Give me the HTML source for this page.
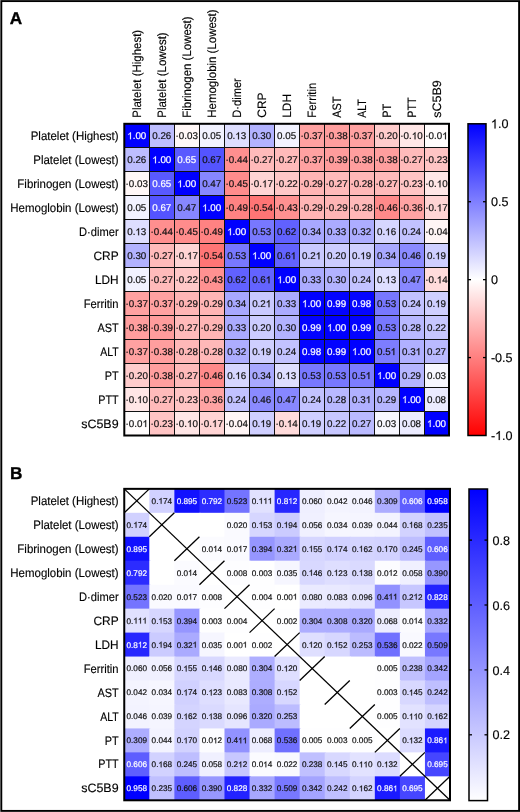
<!DOCTYPE html><html><head><meta charset="utf-8"><style>html,body{margin:0;padding:0;background:#fff;}body{width:520px;height:812px;overflow:hidden;position:relative;}svg{position:absolute;left:0;top:0;will-change:transform;}text{font-family:'Liberation Sans', sans-serif;text-rendering:geometricPrecision;}</style></head><body>
<svg width="520" height="812" viewBox="0 0 520 812">
<rect x="1.3" y="1.1" width="517.8" height="809.8" fill="none" stroke="#000" stroke-width="1.9"/>
<text x="9.7" y="24.1" font-size="17.2" font-weight="bold" fill="#000" stroke="#000" stroke-width="0.35">A</text>
<text x="10.1" y="479.3" font-size="17.2" font-weight="bold" fill="#000" stroke="#000" stroke-width="0.35">B</text>
<rect x="124.30" y="123.80" width="25.98" height="24.98" fill="rgb(0,0,255)"/>
<rect x="149.28" y="123.80" width="25.98" height="24.98" fill="rgb(189,189,255)"/>
<rect x="174.25" y="123.80" width="25.98" height="24.98" fill="rgb(255,247,247)"/>
<rect x="199.23" y="123.80" width="25.98" height="24.98" fill="rgb(242,242,255)"/>
<rect x="224.21" y="123.80" width="25.98" height="24.98" fill="rgb(222,222,255)"/>
<rect x="249.18" y="123.80" width="25.98" height="24.98" fill="rgb(178,178,255)"/>
<rect x="274.16" y="123.80" width="25.98" height="24.98" fill="rgb(242,242,255)"/>
<rect x="299.14" y="123.80" width="25.98" height="24.98" fill="rgb(255,161,161)"/>
<rect x="324.12" y="123.80" width="25.98" height="24.98" fill="rgb(255,158,158)"/>
<rect x="349.09" y="123.80" width="25.98" height="24.98" fill="rgb(255,161,161)"/>
<rect x="374.07" y="123.80" width="25.98" height="24.98" fill="rgb(255,204,204)"/>
<rect x="399.05" y="123.80" width="25.98" height="24.98" fill="rgb(255,230,230)"/>
<rect x="424.02" y="123.80" width="24.98" height="24.98" fill="rgb(255,252,252)"/>
<rect x="124.30" y="147.78" width="25.98" height="24.98" fill="rgb(189,189,255)"/>
<rect x="149.28" y="147.78" width="25.98" height="24.98" fill="rgb(0,0,255)"/>
<rect x="174.25" y="147.78" width="25.98" height="24.98" fill="rgb(89,89,255)"/>
<rect x="199.23" y="147.78" width="25.98" height="24.98" fill="rgb(84,84,255)"/>
<rect x="224.21" y="147.78" width="25.98" height="24.98" fill="rgb(255,143,143)"/>
<rect x="249.18" y="147.78" width="25.98" height="24.98" fill="rgb(255,186,186)"/>
<rect x="274.16" y="147.78" width="25.98" height="24.98" fill="rgb(255,186,186)"/>
<rect x="299.14" y="147.78" width="25.98" height="24.98" fill="rgb(255,161,161)"/>
<rect x="324.12" y="147.78" width="25.98" height="24.98" fill="rgb(255,156,156)"/>
<rect x="349.09" y="147.78" width="25.98" height="24.98" fill="rgb(255,158,158)"/>
<rect x="374.07" y="147.78" width="25.98" height="24.98" fill="rgb(255,158,158)"/>
<rect x="399.05" y="147.78" width="25.98" height="24.98" fill="rgb(255,186,186)"/>
<rect x="424.02" y="147.78" width="24.98" height="24.98" fill="rgb(255,196,196)"/>
<rect x="124.30" y="171.75" width="25.98" height="24.98" fill="rgb(255,247,247)"/>
<rect x="149.28" y="171.75" width="25.98" height="24.98" fill="rgb(89,89,255)"/>
<rect x="174.25" y="171.75" width="25.98" height="24.98" fill="rgb(0,0,255)"/>
<rect x="199.23" y="171.75" width="25.98" height="24.98" fill="rgb(135,135,255)"/>
<rect x="224.21" y="171.75" width="25.98" height="24.98" fill="rgb(255,140,140)"/>
<rect x="249.18" y="171.75" width="25.98" height="24.98" fill="rgb(255,212,212)"/>
<rect x="274.16" y="171.75" width="25.98" height="24.98" fill="rgb(255,199,199)"/>
<rect x="299.14" y="171.75" width="25.98" height="24.98" fill="rgb(255,181,181)"/>
<rect x="324.12" y="171.75" width="25.98" height="24.98" fill="rgb(255,186,186)"/>
<rect x="349.09" y="171.75" width="25.98" height="24.98" fill="rgb(255,184,184)"/>
<rect x="374.07" y="171.75" width="25.98" height="24.98" fill="rgb(255,186,186)"/>
<rect x="399.05" y="171.75" width="25.98" height="24.98" fill="rgb(255,196,196)"/>
<rect x="424.02" y="171.75" width="24.98" height="24.98" fill="rgb(255,230,230)"/>
<rect x="124.30" y="195.73" width="25.98" height="24.98" fill="rgb(242,242,255)"/>
<rect x="149.28" y="195.73" width="25.98" height="24.98" fill="rgb(84,84,255)"/>
<rect x="174.25" y="195.73" width="25.98" height="24.98" fill="rgb(135,135,255)"/>
<rect x="199.23" y="195.73" width="25.98" height="24.98" fill="rgb(0,0,255)"/>
<rect x="224.21" y="195.73" width="25.98" height="24.98" fill="rgb(255,130,130)"/>
<rect x="249.18" y="195.73" width="25.98" height="24.98" fill="rgb(255,117,117)"/>
<rect x="274.16" y="195.73" width="25.98" height="24.98" fill="rgb(255,145,145)"/>
<rect x="299.14" y="195.73" width="25.98" height="24.98" fill="rgb(255,181,181)"/>
<rect x="324.12" y="195.73" width="25.98" height="24.98" fill="rgb(255,181,181)"/>
<rect x="349.09" y="195.73" width="25.98" height="24.98" fill="rgb(255,184,184)"/>
<rect x="374.07" y="195.73" width="25.98" height="24.98" fill="rgb(255,138,138)"/>
<rect x="399.05" y="195.73" width="25.98" height="24.98" fill="rgb(255,163,163)"/>
<rect x="424.02" y="195.73" width="24.98" height="24.98" fill="rgb(255,212,212)"/>
<rect x="124.30" y="219.71" width="25.98" height="24.98" fill="rgb(222,222,255)"/>
<rect x="149.28" y="219.71" width="25.98" height="24.98" fill="rgb(255,143,143)"/>
<rect x="174.25" y="219.71" width="25.98" height="24.98" fill="rgb(255,140,140)"/>
<rect x="199.23" y="219.71" width="25.98" height="24.98" fill="rgb(255,130,130)"/>
<rect x="224.21" y="219.71" width="25.98" height="24.98" fill="rgb(0,0,255)"/>
<rect x="249.18" y="219.71" width="25.98" height="24.98" fill="rgb(120,120,255)"/>
<rect x="274.16" y="219.71" width="25.98" height="24.98" fill="rgb(97,97,255)"/>
<rect x="299.14" y="219.71" width="25.98" height="24.98" fill="rgb(168,168,255)"/>
<rect x="324.12" y="219.71" width="25.98" height="24.98" fill="rgb(171,171,255)"/>
<rect x="349.09" y="219.71" width="25.98" height="24.98" fill="rgb(173,173,255)"/>
<rect x="374.07" y="219.71" width="25.98" height="24.98" fill="rgb(214,214,255)"/>
<rect x="399.05" y="219.71" width="25.98" height="24.98" fill="rgb(194,194,255)"/>
<rect x="424.02" y="219.71" width="24.98" height="24.98" fill="rgb(255,245,245)"/>
<rect x="124.30" y="243.68" width="25.98" height="24.98" fill="rgb(178,178,255)"/>
<rect x="149.28" y="243.68" width="25.98" height="24.98" fill="rgb(255,186,186)"/>
<rect x="174.25" y="243.68" width="25.98" height="24.98" fill="rgb(255,212,212)"/>
<rect x="199.23" y="243.68" width="25.98" height="24.98" fill="rgb(255,117,117)"/>
<rect x="224.21" y="243.68" width="25.98" height="24.98" fill="rgb(120,120,255)"/>
<rect x="249.18" y="243.68" width="25.98" height="24.98" fill="rgb(0,0,255)"/>
<rect x="274.16" y="243.68" width="25.98" height="24.98" fill="rgb(99,99,255)"/>
<rect x="299.14" y="243.68" width="25.98" height="24.98" fill="rgb(201,201,255)"/>
<rect x="324.12" y="243.68" width="25.98" height="24.98" fill="rgb(204,204,255)"/>
<rect x="349.09" y="243.68" width="25.98" height="24.98" fill="rgb(207,207,255)"/>
<rect x="374.07" y="243.68" width="25.98" height="24.98" fill="rgb(168,168,255)"/>
<rect x="399.05" y="243.68" width="25.98" height="24.98" fill="rgb(138,138,255)"/>
<rect x="424.02" y="243.68" width="24.98" height="24.98" fill="rgb(207,207,255)"/>
<rect x="124.30" y="267.66" width="25.98" height="24.98" fill="rgb(242,242,255)"/>
<rect x="149.28" y="267.66" width="25.98" height="24.98" fill="rgb(255,186,186)"/>
<rect x="174.25" y="267.66" width="25.98" height="24.98" fill="rgb(255,199,199)"/>
<rect x="199.23" y="267.66" width="25.98" height="24.98" fill="rgb(255,145,145)"/>
<rect x="224.21" y="267.66" width="25.98" height="24.98" fill="rgb(97,97,255)"/>
<rect x="249.18" y="267.66" width="25.98" height="24.98" fill="rgb(99,99,255)"/>
<rect x="274.16" y="267.66" width="25.98" height="24.98" fill="rgb(0,0,255)"/>
<rect x="299.14" y="267.66" width="25.98" height="24.98" fill="rgb(171,171,255)"/>
<rect x="324.12" y="267.66" width="25.98" height="24.98" fill="rgb(178,178,255)"/>
<rect x="349.09" y="267.66" width="25.98" height="24.98" fill="rgb(194,194,255)"/>
<rect x="374.07" y="267.66" width="25.98" height="24.98" fill="rgb(222,222,255)"/>
<rect x="399.05" y="267.66" width="25.98" height="24.98" fill="rgb(135,135,255)"/>
<rect x="424.02" y="267.66" width="24.98" height="24.98" fill="rgb(255,219,219)"/>
<rect x="124.30" y="291.64" width="25.98" height="24.98" fill="rgb(255,161,161)"/>
<rect x="149.28" y="291.64" width="25.98" height="24.98" fill="rgb(255,161,161)"/>
<rect x="174.25" y="291.64" width="25.98" height="24.98" fill="rgb(255,181,181)"/>
<rect x="199.23" y="291.64" width="25.98" height="24.98" fill="rgb(255,181,181)"/>
<rect x="224.21" y="291.64" width="25.98" height="24.98" fill="rgb(168,168,255)"/>
<rect x="249.18" y="291.64" width="25.98" height="24.98" fill="rgb(201,201,255)"/>
<rect x="274.16" y="291.64" width="25.98" height="24.98" fill="rgb(171,171,255)"/>
<rect x="299.14" y="291.64" width="25.98" height="24.98" fill="rgb(0,0,255)"/>
<rect x="324.12" y="291.64" width="25.98" height="24.98" fill="rgb(3,3,255)"/>
<rect x="349.09" y="291.64" width="25.98" height="24.98" fill="rgb(5,5,255)"/>
<rect x="374.07" y="291.64" width="25.98" height="24.98" fill="rgb(120,120,255)"/>
<rect x="399.05" y="291.64" width="25.98" height="24.98" fill="rgb(194,194,255)"/>
<rect x="424.02" y="291.64" width="24.98" height="24.98" fill="rgb(207,207,255)"/>
<rect x="124.30" y="315.62" width="25.98" height="24.98" fill="rgb(255,158,158)"/>
<rect x="149.28" y="315.62" width="25.98" height="24.98" fill="rgb(255,156,156)"/>
<rect x="174.25" y="315.62" width="25.98" height="24.98" fill="rgb(255,186,186)"/>
<rect x="199.23" y="315.62" width="25.98" height="24.98" fill="rgb(255,181,181)"/>
<rect x="224.21" y="315.62" width="25.98" height="24.98" fill="rgb(171,171,255)"/>
<rect x="249.18" y="315.62" width="25.98" height="24.98" fill="rgb(204,204,255)"/>
<rect x="274.16" y="315.62" width="25.98" height="24.98" fill="rgb(178,178,255)"/>
<rect x="299.14" y="315.62" width="25.98" height="24.98" fill="rgb(3,3,255)"/>
<rect x="324.12" y="315.62" width="25.98" height="24.98" fill="rgb(0,0,255)"/>
<rect x="349.09" y="315.62" width="25.98" height="24.98" fill="rgb(3,3,255)"/>
<rect x="374.07" y="315.62" width="25.98" height="24.98" fill="rgb(120,120,255)"/>
<rect x="399.05" y="315.62" width="25.98" height="24.98" fill="rgb(184,184,255)"/>
<rect x="424.02" y="315.62" width="24.98" height="24.98" fill="rgb(199,199,255)"/>
<rect x="124.30" y="339.59" width="25.98" height="24.98" fill="rgb(255,161,161)"/>
<rect x="149.28" y="339.59" width="25.98" height="24.98" fill="rgb(255,158,158)"/>
<rect x="174.25" y="339.59" width="25.98" height="24.98" fill="rgb(255,184,184)"/>
<rect x="199.23" y="339.59" width="25.98" height="24.98" fill="rgb(255,184,184)"/>
<rect x="224.21" y="339.59" width="25.98" height="24.98" fill="rgb(173,173,255)"/>
<rect x="249.18" y="339.59" width="25.98" height="24.98" fill="rgb(207,207,255)"/>
<rect x="274.16" y="339.59" width="25.98" height="24.98" fill="rgb(194,194,255)"/>
<rect x="299.14" y="339.59" width="25.98" height="24.98" fill="rgb(5,5,255)"/>
<rect x="324.12" y="339.59" width="25.98" height="24.98" fill="rgb(3,3,255)"/>
<rect x="349.09" y="339.59" width="25.98" height="24.98" fill="rgb(0,0,255)"/>
<rect x="374.07" y="339.59" width="25.98" height="24.98" fill="rgb(125,125,255)"/>
<rect x="399.05" y="339.59" width="25.98" height="24.98" fill="rgb(176,176,255)"/>
<rect x="424.02" y="339.59" width="24.98" height="24.98" fill="rgb(186,186,255)"/>
<rect x="124.30" y="363.57" width="25.98" height="24.98" fill="rgb(255,204,204)"/>
<rect x="149.28" y="363.57" width="25.98" height="24.98" fill="rgb(255,158,158)"/>
<rect x="174.25" y="363.57" width="25.98" height="24.98" fill="rgb(255,186,186)"/>
<rect x="199.23" y="363.57" width="25.98" height="24.98" fill="rgb(255,138,138)"/>
<rect x="224.21" y="363.57" width="25.98" height="24.98" fill="rgb(214,214,255)"/>
<rect x="249.18" y="363.57" width="25.98" height="24.98" fill="rgb(168,168,255)"/>
<rect x="274.16" y="363.57" width="25.98" height="24.98" fill="rgb(222,222,255)"/>
<rect x="299.14" y="363.57" width="25.98" height="24.98" fill="rgb(120,120,255)"/>
<rect x="324.12" y="363.57" width="25.98" height="24.98" fill="rgb(120,120,255)"/>
<rect x="349.09" y="363.57" width="25.98" height="24.98" fill="rgb(125,125,255)"/>
<rect x="374.07" y="363.57" width="25.98" height="24.98" fill="rgb(0,0,255)"/>
<rect x="399.05" y="363.57" width="25.98" height="24.98" fill="rgb(181,181,255)"/>
<rect x="424.02" y="363.57" width="24.98" height="24.98" fill="rgb(247,247,255)"/>
<rect x="124.30" y="387.55" width="25.98" height="24.98" fill="rgb(255,230,230)"/>
<rect x="149.28" y="387.55" width="25.98" height="24.98" fill="rgb(255,186,186)"/>
<rect x="174.25" y="387.55" width="25.98" height="24.98" fill="rgb(255,196,196)"/>
<rect x="199.23" y="387.55" width="25.98" height="24.98" fill="rgb(255,163,163)"/>
<rect x="224.21" y="387.55" width="25.98" height="24.98" fill="rgb(194,194,255)"/>
<rect x="249.18" y="387.55" width="25.98" height="24.98" fill="rgb(138,138,255)"/>
<rect x="274.16" y="387.55" width="25.98" height="24.98" fill="rgb(135,135,255)"/>
<rect x="299.14" y="387.55" width="25.98" height="24.98" fill="rgb(194,194,255)"/>
<rect x="324.12" y="387.55" width="25.98" height="24.98" fill="rgb(184,184,255)"/>
<rect x="349.09" y="387.55" width="25.98" height="24.98" fill="rgb(176,176,255)"/>
<rect x="374.07" y="387.55" width="25.98" height="24.98" fill="rgb(181,181,255)"/>
<rect x="399.05" y="387.55" width="25.98" height="24.98" fill="rgb(0,0,255)"/>
<rect x="424.02" y="387.55" width="24.98" height="24.98" fill="rgb(235,235,255)"/>
<rect x="124.30" y="411.52" width="25.98" height="23.98" fill="rgb(255,252,252)"/>
<rect x="149.28" y="411.52" width="25.98" height="23.98" fill="rgb(255,196,196)"/>
<rect x="174.25" y="411.52" width="25.98" height="23.98" fill="rgb(255,230,230)"/>
<rect x="199.23" y="411.52" width="25.98" height="23.98" fill="rgb(255,212,212)"/>
<rect x="224.21" y="411.52" width="25.98" height="23.98" fill="rgb(255,245,245)"/>
<rect x="249.18" y="411.52" width="25.98" height="23.98" fill="rgb(207,207,255)"/>
<rect x="274.16" y="411.52" width="25.98" height="23.98" fill="rgb(255,219,219)"/>
<rect x="299.14" y="411.52" width="25.98" height="23.98" fill="rgb(207,207,255)"/>
<rect x="324.12" y="411.52" width="25.98" height="23.98" fill="rgb(199,199,255)"/>
<rect x="349.09" y="411.52" width="25.98" height="23.98" fill="rgb(186,186,255)"/>
<rect x="374.07" y="411.52" width="25.98" height="23.98" fill="rgb(247,247,255)"/>
<rect x="399.05" y="411.52" width="25.98" height="23.98" fill="rgb(235,235,255)"/>
<rect x="424.02" y="411.52" width="24.98" height="23.98" fill="rgb(0,0,255)"/>
<line x1="149.5" y1="123.8" x2="149.5" y2="435.5" stroke="#111" stroke-width="1"/>
<line x1="124.3" y1="147.5" x2="449.0" y2="147.5" stroke="#111" stroke-width="1"/>
<line x1="174.5" y1="123.8" x2="174.5" y2="435.5" stroke="#111" stroke-width="1"/>
<line x1="124.3" y1="171.5" x2="449.0" y2="171.5" stroke="#111" stroke-width="1"/>
<line x1="199.5" y1="123.8" x2="199.5" y2="435.5" stroke="#111" stroke-width="1"/>
<line x1="124.3" y1="195.5" x2="449.0" y2="195.5" stroke="#111" stroke-width="1"/>
<line x1="224.5" y1="123.8" x2="224.5" y2="435.5" stroke="#111" stroke-width="1"/>
<line x1="124.3" y1="219.5" x2="449.0" y2="219.5" stroke="#111" stroke-width="1"/>
<line x1="249.5" y1="123.8" x2="249.5" y2="435.5" stroke="#111" stroke-width="1"/>
<line x1="124.3" y1="243.5" x2="449.0" y2="243.5" stroke="#111" stroke-width="1"/>
<line x1="274.5" y1="123.8" x2="274.5" y2="435.5" stroke="#111" stroke-width="1"/>
<line x1="124.3" y1="267.5" x2="449.0" y2="267.5" stroke="#111" stroke-width="1"/>
<line x1="299.5" y1="123.8" x2="299.5" y2="435.5" stroke="#111" stroke-width="1"/>
<line x1="124.3" y1="291.5" x2="449.0" y2="291.5" stroke="#111" stroke-width="1"/>
<line x1="324.5" y1="123.8" x2="324.5" y2="435.5" stroke="#111" stroke-width="1"/>
<line x1="124.3" y1="315.5" x2="449.0" y2="315.5" stroke="#111" stroke-width="1"/>
<line x1="349.5" y1="123.8" x2="349.5" y2="435.5" stroke="#111" stroke-width="1"/>
<line x1="124.3" y1="339.5" x2="449.0" y2="339.5" stroke="#111" stroke-width="1"/>
<line x1="374.5" y1="123.8" x2="374.5" y2="435.5" stroke="#111" stroke-width="1"/>
<line x1="124.3" y1="363.5" x2="449.0" y2="363.5" stroke="#111" stroke-width="1"/>
<line x1="399.5" y1="123.8" x2="399.5" y2="435.5" stroke="#111" stroke-width="1"/>
<line x1="124.3" y1="387.5" x2="449.0" y2="387.5" stroke="#111" stroke-width="1"/>
<line x1="424.5" y1="123.8" x2="424.5" y2="435.5" stroke="#111" stroke-width="1"/>
<line x1="124.3" y1="411.5" x2="449.0" y2="411.5" stroke="#111" stroke-width="1"/>
<text x="127.25" y="139.32" font-size="9.8" fill="#fff" stroke="#fff" stroke-width="0.2" xml:space="preserve"> .00</text><path transform="translate(127.25,139.32) scale(0.00479,-0.00479)" d="M763 0L583 0L583 1147Q518 1085 412 1023Q306 961 221 930L221 1104Q372 1175 485 1276Q598 1377 645 1472L763 1472Z" fill="#fff" stroke="#fff" stroke-width="41.8"/>
<text x="152.23" y="139.32" font-size="9.8" fill="#111" stroke="#111" stroke-width="0.2" xml:space="preserve">0.26</text>
<text x="175.57" y="139.32" font-size="9.8" fill="#111" stroke="#111" stroke-width="0.2" xml:space="preserve">·0.03</text>
<text x="202.18" y="139.32" font-size="9.8" fill="#111" stroke="#111" stroke-width="0.2" xml:space="preserve">0.05</text>
<text x="227.16" y="139.32" font-size="9.8" fill="#111" stroke="#111" stroke-width="0.2" xml:space="preserve">0. 3</text><path transform="translate(235.33,139.32) scale(0.00479,-0.00479)" d="M763 0L583 0L583 1147Q518 1085 412 1023Q306 961 221 930L221 1104Q372 1175 485 1276Q598 1377 645 1472L763 1472Z" fill="#111" stroke="#111" stroke-width="41.8"/>
<text x="252.14" y="139.32" font-size="9.8" fill="#111" stroke="#111" stroke-width="0.2" xml:space="preserve">0.30</text>
<text x="277.11" y="139.32" font-size="9.8" fill="#111" stroke="#111" stroke-width="0.2" xml:space="preserve">0.05</text>
<text x="300.46" y="139.32" font-size="9.8" fill="#111" stroke="#111" stroke-width="0.2" xml:space="preserve">·0.37</text>
<text x="325.44" y="139.32" font-size="9.8" fill="#111" stroke="#111" stroke-width="0.2" xml:space="preserve">·0.38</text>
<text x="350.41" y="139.32" font-size="9.8" fill="#111" stroke="#111" stroke-width="0.2" xml:space="preserve">·0.37</text>
<text x="375.39" y="139.32" font-size="9.8" fill="#111" stroke="#111" stroke-width="0.2" xml:space="preserve">·0.20</text>
<text x="400.37" y="139.32" font-size="9.8" fill="#111" stroke="#111" stroke-width="0.2" xml:space="preserve">·0. 0</text><path transform="translate(411.80,139.32) scale(0.00479,-0.00479)" d="M763 0L583 0L583 1147Q518 1085 412 1023Q306 961 221 930L221 1104Q372 1175 485 1276Q598 1377 645 1472L763 1472Z" fill="#111" stroke="#111" stroke-width="41.8"/>
<text x="425.34" y="139.32" font-size="9.8" fill="#111" stroke="#111" stroke-width="0.2" xml:space="preserve">·0.0 </text><path transform="translate(442.23,139.32) scale(0.00479,-0.00479)" d="M763 0L583 0L583 1147Q518 1085 412 1023Q306 961 221 930L221 1104Q372 1175 485 1276Q598 1377 645 1472L763 1472Z" fill="#111" stroke="#111" stroke-width="41.8"/>
<text x="127.25" y="163.29" font-size="9.8" fill="#111" stroke="#111" stroke-width="0.2" xml:space="preserve">0.26</text>
<text x="152.23" y="163.29" font-size="9.8" fill="#fff" stroke="#fff" stroke-width="0.2" xml:space="preserve"> .00</text><path transform="translate(152.23,163.29) scale(0.00479,-0.00479)" d="M763 0L583 0L583 1147Q518 1085 412 1023Q306 961 221 930L221 1104Q372 1175 485 1276Q598 1377 645 1472L763 1472Z" fill="#fff" stroke="#fff" stroke-width="41.8"/>
<text x="177.21" y="163.29" font-size="9.8" fill="#fff" stroke="#fff" stroke-width="0.2" xml:space="preserve">0.65</text>
<text x="202.18" y="163.29" font-size="9.8" fill="#111" stroke="#111" stroke-width="0.2" xml:space="preserve">0.67</text>
<text x="225.53" y="163.29" font-size="9.8" fill="#111" stroke="#111" stroke-width="0.2" xml:space="preserve">·0.44</text>
<text x="250.50" y="163.29" font-size="9.8" fill="#111" stroke="#111" stroke-width="0.2" xml:space="preserve">·0.27</text>
<text x="275.48" y="163.29" font-size="9.8" fill="#111" stroke="#111" stroke-width="0.2" xml:space="preserve">·0.27</text>
<text x="300.46" y="163.29" font-size="9.8" fill="#111" stroke="#111" stroke-width="0.2" xml:space="preserve">·0.37</text>
<text x="325.44" y="163.29" font-size="9.8" fill="#111" stroke="#111" stroke-width="0.2" xml:space="preserve">·0.39</text>
<text x="350.41" y="163.29" font-size="9.8" fill="#111" stroke="#111" stroke-width="0.2" xml:space="preserve">·0.38</text>
<text x="375.39" y="163.29" font-size="9.8" fill="#111" stroke="#111" stroke-width="0.2" xml:space="preserve">·0.38</text>
<text x="400.37" y="163.29" font-size="9.8" fill="#111" stroke="#111" stroke-width="0.2" xml:space="preserve">·0.27</text>
<text x="425.34" y="163.29" font-size="9.8" fill="#111" stroke="#111" stroke-width="0.2" xml:space="preserve">·0.23</text>
<text x="125.62" y="187.27" font-size="9.8" fill="#111" stroke="#111" stroke-width="0.2" xml:space="preserve">·0.03</text>
<text x="152.23" y="187.27" font-size="9.8" fill="#fff" stroke="#fff" stroke-width="0.2" xml:space="preserve">0.65</text>
<text x="177.21" y="187.27" font-size="9.8" fill="#fff" stroke="#fff" stroke-width="0.2" xml:space="preserve"> .00</text><path transform="translate(177.21,187.27) scale(0.00479,-0.00479)" d="M763 0L583 0L583 1147Q518 1085 412 1023Q306 961 221 930L221 1104Q372 1175 485 1276Q598 1377 645 1472L763 1472Z" fill="#fff" stroke="#fff" stroke-width="41.8"/>
<text x="202.18" y="187.27" font-size="9.8" fill="#111" stroke="#111" stroke-width="0.2" xml:space="preserve">0.47</text>
<text x="225.53" y="187.27" font-size="9.8" fill="#111" stroke="#111" stroke-width="0.2" xml:space="preserve">·0.45</text>
<text x="250.50" y="187.27" font-size="9.8" fill="#111" stroke="#111" stroke-width="0.2" xml:space="preserve">·0. 7</text><path transform="translate(261.94,187.27) scale(0.00479,-0.00479)" d="M763 0L583 0L583 1147Q518 1085 412 1023Q306 961 221 930L221 1104Q372 1175 485 1276Q598 1377 645 1472L763 1472Z" fill="#111" stroke="#111" stroke-width="41.8"/>
<text x="275.48" y="187.27" font-size="9.8" fill="#111" stroke="#111" stroke-width="0.2" xml:space="preserve">·0.22</text>
<text x="300.46" y="187.27" font-size="9.8" fill="#111" stroke="#111" stroke-width="0.2" xml:space="preserve">·0.29</text>
<text x="325.44" y="187.27" font-size="9.8" fill="#111" stroke="#111" stroke-width="0.2" xml:space="preserve">·0.27</text>
<text x="350.41" y="187.27" font-size="9.8" fill="#111" stroke="#111" stroke-width="0.2" xml:space="preserve">·0.28</text>
<text x="375.39" y="187.27" font-size="9.8" fill="#111" stroke="#111" stroke-width="0.2" xml:space="preserve">·0.27</text>
<text x="400.37" y="187.27" font-size="9.8" fill="#111" stroke="#111" stroke-width="0.2" xml:space="preserve">·0.23</text>
<text x="425.34" y="187.27" font-size="9.8" fill="#111" stroke="#111" stroke-width="0.2" xml:space="preserve">·0. 0</text><path transform="translate(436.78,187.27) scale(0.00479,-0.00479)" d="M763 0L583 0L583 1147Q518 1085 412 1023Q306 961 221 930L221 1104Q372 1175 485 1276Q598 1377 645 1472L763 1472Z" fill="#111" stroke="#111" stroke-width="41.8"/>
<text x="127.25" y="211.25" font-size="9.8" fill="#111" stroke="#111" stroke-width="0.2" xml:space="preserve">0.05</text>
<text x="152.23" y="211.25" font-size="9.8" fill="#fff" stroke="#fff" stroke-width="0.2" xml:space="preserve">0.67</text>
<text x="177.21" y="211.25" font-size="9.8" fill="#111" stroke="#111" stroke-width="0.2" xml:space="preserve">0.47</text>
<text x="202.18" y="211.25" font-size="9.8" fill="#fff" stroke="#fff" stroke-width="0.2" xml:space="preserve"> .00</text><path transform="translate(202.18,211.25) scale(0.00479,-0.00479)" d="M763 0L583 0L583 1147Q518 1085 412 1023Q306 961 221 930L221 1104Q372 1175 485 1276Q598 1377 645 1472L763 1472Z" fill="#fff" stroke="#fff" stroke-width="41.8"/>
<text x="225.53" y="211.25" font-size="9.8" fill="#111" stroke="#111" stroke-width="0.2" xml:space="preserve">·0.49</text>
<text x="250.50" y="211.25" font-size="9.8" fill="#111" stroke="#111" stroke-width="0.2" xml:space="preserve">·0.54</text>
<text x="275.48" y="211.25" font-size="9.8" fill="#111" stroke="#111" stroke-width="0.2" xml:space="preserve">·0.43</text>
<text x="300.46" y="211.25" font-size="9.8" fill="#111" stroke="#111" stroke-width="0.2" xml:space="preserve">·0.29</text>
<text x="325.44" y="211.25" font-size="9.8" fill="#111" stroke="#111" stroke-width="0.2" xml:space="preserve">·0.29</text>
<text x="350.41" y="211.25" font-size="9.8" fill="#111" stroke="#111" stroke-width="0.2" xml:space="preserve">·0.28</text>
<text x="375.39" y="211.25" font-size="9.8" fill="#111" stroke="#111" stroke-width="0.2" xml:space="preserve">·0.46</text>
<text x="400.37" y="211.25" font-size="9.8" fill="#111" stroke="#111" stroke-width="0.2" xml:space="preserve">·0.36</text>
<text x="425.34" y="211.25" font-size="9.8" fill="#111" stroke="#111" stroke-width="0.2" xml:space="preserve">·0. 7</text><path transform="translate(436.78,211.25) scale(0.00479,-0.00479)" d="M763 0L583 0L583 1147Q518 1085 412 1023Q306 961 221 930L221 1104Q372 1175 485 1276Q598 1377 645 1472L763 1472Z" fill="#111" stroke="#111" stroke-width="41.8"/>
<text x="127.25" y="235.22" font-size="9.8" fill="#111" stroke="#111" stroke-width="0.2" xml:space="preserve">0. 3</text><path transform="translate(135.42,235.22) scale(0.00479,-0.00479)" d="M763 0L583 0L583 1147Q518 1085 412 1023Q306 961 221 930L221 1104Q372 1175 485 1276Q598 1377 645 1472L763 1472Z" fill="#111" stroke="#111" stroke-width="41.8"/>
<text x="150.60" y="235.22" font-size="9.8" fill="#111" stroke="#111" stroke-width="0.2" xml:space="preserve">·0.44</text>
<text x="175.57" y="235.22" font-size="9.8" fill="#111" stroke="#111" stroke-width="0.2" xml:space="preserve">·0.45</text>
<text x="200.55" y="235.22" font-size="9.8" fill="#111" stroke="#111" stroke-width="0.2" xml:space="preserve">·0.49</text>
<text x="227.16" y="235.22" font-size="9.8" fill="#fff" stroke="#fff" stroke-width="0.2" xml:space="preserve"> .00</text><path transform="translate(227.16,235.22) scale(0.00479,-0.00479)" d="M763 0L583 0L583 1147Q518 1085 412 1023Q306 961 221 930L221 1104Q372 1175 485 1276Q598 1377 645 1472L763 1472Z" fill="#fff" stroke="#fff" stroke-width="41.8"/>
<text x="252.14" y="235.22" font-size="9.8" fill="#111" stroke="#111" stroke-width="0.2" xml:space="preserve">0.53</text>
<text x="277.11" y="235.22" font-size="9.8" fill="#111" stroke="#111" stroke-width="0.2" xml:space="preserve">0.62</text>
<text x="302.09" y="235.22" font-size="9.8" fill="#111" stroke="#111" stroke-width="0.2" xml:space="preserve">0.34</text>
<text x="327.07" y="235.22" font-size="9.8" fill="#111" stroke="#111" stroke-width="0.2" xml:space="preserve">0.33</text>
<text x="352.04" y="235.22" font-size="9.8" fill="#111" stroke="#111" stroke-width="0.2" xml:space="preserve">0.32</text>
<text x="377.02" y="235.22" font-size="9.8" fill="#111" stroke="#111" stroke-width="0.2" xml:space="preserve">0. 6</text><path transform="translate(385.19,235.22) scale(0.00479,-0.00479)" d="M763 0L583 0L583 1147Q518 1085 412 1023Q306 961 221 930L221 1104Q372 1175 485 1276Q598 1377 645 1472L763 1472Z" fill="#111" stroke="#111" stroke-width="41.8"/>
<text x="402.00" y="235.22" font-size="9.8" fill="#111" stroke="#111" stroke-width="0.2" xml:space="preserve">0.24</text>
<text x="425.34" y="235.22" font-size="9.8" fill="#111" stroke="#111" stroke-width="0.2" xml:space="preserve">·0.04</text>
<text x="127.25" y="259.20" font-size="9.8" fill="#111" stroke="#111" stroke-width="0.2" xml:space="preserve">0.30</text>
<text x="150.60" y="259.20" font-size="9.8" fill="#111" stroke="#111" stroke-width="0.2" xml:space="preserve">·0.27</text>
<text x="175.57" y="259.20" font-size="9.8" fill="#111" stroke="#111" stroke-width="0.2" xml:space="preserve">·0. 7</text><path transform="translate(187.01,259.20) scale(0.00479,-0.00479)" d="M763 0L583 0L583 1147Q518 1085 412 1023Q306 961 221 930L221 1104Q372 1175 485 1276Q598 1377 645 1472L763 1472Z" fill="#111" stroke="#111" stroke-width="41.8"/>
<text x="200.55" y="259.20" font-size="9.8" fill="#111" stroke="#111" stroke-width="0.2" xml:space="preserve">·0.54</text>
<text x="227.16" y="259.20" font-size="9.8" fill="#111" stroke="#111" stroke-width="0.2" xml:space="preserve">0.53</text>
<text x="252.14" y="259.20" font-size="9.8" fill="#fff" stroke="#fff" stroke-width="0.2" xml:space="preserve"> .00</text><path transform="translate(252.14,259.20) scale(0.00479,-0.00479)" d="M763 0L583 0L583 1147Q518 1085 412 1023Q306 961 221 930L221 1104Q372 1175 485 1276Q598 1377 645 1472L763 1472Z" fill="#fff" stroke="#fff" stroke-width="41.8"/>
<text x="277.11" y="259.20" font-size="9.8" fill="#111" stroke="#111" stroke-width="0.2" xml:space="preserve">0.6 </text><path transform="translate(290.74,259.20) scale(0.00479,-0.00479)" d="M763 0L583 0L583 1147Q518 1085 412 1023Q306 961 221 930L221 1104Q372 1175 485 1276Q598 1377 645 1472L763 1472Z" fill="#111" stroke="#111" stroke-width="41.8"/>
<text x="302.09" y="259.20" font-size="9.8" fill="#111" stroke="#111" stroke-width="0.2" xml:space="preserve">0.2 </text><path transform="translate(315.71,259.20) scale(0.00479,-0.00479)" d="M763 0L583 0L583 1147Q518 1085 412 1023Q306 961 221 930L221 1104Q372 1175 485 1276Q598 1377 645 1472L763 1472Z" fill="#111" stroke="#111" stroke-width="41.8"/>
<text x="327.07" y="259.20" font-size="9.8" fill="#111" stroke="#111" stroke-width="0.2" xml:space="preserve">0.20</text>
<text x="352.04" y="259.20" font-size="9.8" fill="#111" stroke="#111" stroke-width="0.2" xml:space="preserve">0. 9</text><path transform="translate(360.22,259.20) scale(0.00479,-0.00479)" d="M763 0L583 0L583 1147Q518 1085 412 1023Q306 961 221 930L221 1104Q372 1175 485 1276Q598 1377 645 1472L763 1472Z" fill="#111" stroke="#111" stroke-width="41.8"/>
<text x="377.02" y="259.20" font-size="9.8" fill="#111" stroke="#111" stroke-width="0.2" xml:space="preserve">0.34</text>
<text x="402.00" y="259.20" font-size="9.8" fill="#111" stroke="#111" stroke-width="0.2" xml:space="preserve">0.46</text>
<text x="426.97" y="259.20" font-size="9.8" fill="#111" stroke="#111" stroke-width="0.2" xml:space="preserve">0. 9</text><path transform="translate(435.15,259.20) scale(0.00479,-0.00479)" d="M763 0L583 0L583 1147Q518 1085 412 1023Q306 961 221 930L221 1104Q372 1175 485 1276Q598 1377 645 1472L763 1472Z" fill="#111" stroke="#111" stroke-width="41.8"/>
<text x="127.25" y="283.18" font-size="9.8" fill="#111" stroke="#111" stroke-width="0.2" xml:space="preserve">0.05</text>
<text x="150.60" y="283.18" font-size="9.8" fill="#111" stroke="#111" stroke-width="0.2" xml:space="preserve">·0.27</text>
<text x="175.57" y="283.18" font-size="9.8" fill="#111" stroke="#111" stroke-width="0.2" xml:space="preserve">·0.22</text>
<text x="200.55" y="283.18" font-size="9.8" fill="#111" stroke="#111" stroke-width="0.2" xml:space="preserve">·0.43</text>
<text x="227.16" y="283.18" font-size="9.8" fill="#111" stroke="#111" stroke-width="0.2" xml:space="preserve">0.62</text>
<text x="252.14" y="283.18" font-size="9.8" fill="#111" stroke="#111" stroke-width="0.2" xml:space="preserve">0.6 </text><path transform="translate(265.76,283.18) scale(0.00479,-0.00479)" d="M763 0L583 0L583 1147Q518 1085 412 1023Q306 961 221 930L221 1104Q372 1175 485 1276Q598 1377 645 1472L763 1472Z" fill="#111" stroke="#111" stroke-width="41.8"/>
<text x="277.11" y="283.18" font-size="9.8" fill="#fff" stroke="#fff" stroke-width="0.2" xml:space="preserve"> .00</text><path transform="translate(277.11,283.18) scale(0.00479,-0.00479)" d="M763 0L583 0L583 1147Q518 1085 412 1023Q306 961 221 930L221 1104Q372 1175 485 1276Q598 1377 645 1472L763 1472Z" fill="#fff" stroke="#fff" stroke-width="41.8"/>
<text x="302.09" y="283.18" font-size="9.8" fill="#111" stroke="#111" stroke-width="0.2" xml:space="preserve">0.33</text>
<text x="327.07" y="283.18" font-size="9.8" fill="#111" stroke="#111" stroke-width="0.2" xml:space="preserve">0.30</text>
<text x="352.04" y="283.18" font-size="9.8" fill="#111" stroke="#111" stroke-width="0.2" xml:space="preserve">0.24</text>
<text x="377.02" y="283.18" font-size="9.8" fill="#111" stroke="#111" stroke-width="0.2" xml:space="preserve">0. 3</text><path transform="translate(385.19,283.18) scale(0.00479,-0.00479)" d="M763 0L583 0L583 1147Q518 1085 412 1023Q306 961 221 930L221 1104Q372 1175 485 1276Q598 1377 645 1472L763 1472Z" fill="#111" stroke="#111" stroke-width="41.8"/>
<text x="402.00" y="283.18" font-size="9.8" fill="#111" stroke="#111" stroke-width="0.2" xml:space="preserve">0.47</text>
<text x="425.34" y="283.18" font-size="9.8" fill="#111" stroke="#111" stroke-width="0.2" xml:space="preserve">·0. 4</text><path transform="translate(436.78,283.18) scale(0.00479,-0.00479)" d="M763 0L583 0L583 1147Q518 1085 412 1023Q306 961 221 930L221 1104Q372 1175 485 1276Q598 1377 645 1472L763 1472Z" fill="#111" stroke="#111" stroke-width="41.8"/>
<text x="125.62" y="307.15" font-size="9.8" fill="#111" stroke="#111" stroke-width="0.2" xml:space="preserve">·0.37</text>
<text x="150.60" y="307.15" font-size="9.8" fill="#111" stroke="#111" stroke-width="0.2" xml:space="preserve">·0.37</text>
<text x="175.57" y="307.15" font-size="9.8" fill="#111" stroke="#111" stroke-width="0.2" xml:space="preserve">·0.29</text>
<text x="200.55" y="307.15" font-size="9.8" fill="#111" stroke="#111" stroke-width="0.2" xml:space="preserve">·0.29</text>
<text x="227.16" y="307.15" font-size="9.8" fill="#111" stroke="#111" stroke-width="0.2" xml:space="preserve">0.34</text>
<text x="252.14" y="307.15" font-size="9.8" fill="#111" stroke="#111" stroke-width="0.2" xml:space="preserve">0.2 </text><path transform="translate(265.76,307.15) scale(0.00479,-0.00479)" d="M763 0L583 0L583 1147Q518 1085 412 1023Q306 961 221 930L221 1104Q372 1175 485 1276Q598 1377 645 1472L763 1472Z" fill="#111" stroke="#111" stroke-width="41.8"/>
<text x="277.11" y="307.15" font-size="9.8" fill="#111" stroke="#111" stroke-width="0.2" xml:space="preserve">0.33</text>
<text x="302.09" y="307.15" font-size="9.8" fill="#fff" stroke="#fff" stroke-width="0.2" xml:space="preserve"> .00</text><path transform="translate(302.09,307.15) scale(0.00479,-0.00479)" d="M763 0L583 0L583 1147Q518 1085 412 1023Q306 961 221 930L221 1104Q372 1175 485 1276Q598 1377 645 1472L763 1472Z" fill="#fff" stroke="#fff" stroke-width="41.8"/>
<text x="327.07" y="307.15" font-size="9.8" fill="#fff" stroke="#fff" stroke-width="0.2" xml:space="preserve">0.99</text>
<text x="352.04" y="307.15" font-size="9.8" fill="#fff" stroke="#fff" stroke-width="0.2" xml:space="preserve">0.98</text>
<text x="377.02" y="307.15" font-size="9.8" fill="#111" stroke="#111" stroke-width="0.2" xml:space="preserve">0.53</text>
<text x="402.00" y="307.15" font-size="9.8" fill="#111" stroke="#111" stroke-width="0.2" xml:space="preserve">0.24</text>
<text x="426.97" y="307.15" font-size="9.8" fill="#111" stroke="#111" stroke-width="0.2" xml:space="preserve">0. 9</text><path transform="translate(435.15,307.15) scale(0.00479,-0.00479)" d="M763 0L583 0L583 1147Q518 1085 412 1023Q306 961 221 930L221 1104Q372 1175 485 1276Q598 1377 645 1472L763 1472Z" fill="#111" stroke="#111" stroke-width="41.8"/>
<text x="125.62" y="331.13" font-size="9.8" fill="#111" stroke="#111" stroke-width="0.2" xml:space="preserve">·0.38</text>
<text x="150.60" y="331.13" font-size="9.8" fill="#111" stroke="#111" stroke-width="0.2" xml:space="preserve">·0.39</text>
<text x="175.57" y="331.13" font-size="9.8" fill="#111" stroke="#111" stroke-width="0.2" xml:space="preserve">·0.27</text>
<text x="200.55" y="331.13" font-size="9.8" fill="#111" stroke="#111" stroke-width="0.2" xml:space="preserve">·0.29</text>
<text x="227.16" y="331.13" font-size="9.8" fill="#111" stroke="#111" stroke-width="0.2" xml:space="preserve">0.33</text>
<text x="252.14" y="331.13" font-size="9.8" fill="#111" stroke="#111" stroke-width="0.2" xml:space="preserve">0.20</text>
<text x="277.11" y="331.13" font-size="9.8" fill="#111" stroke="#111" stroke-width="0.2" xml:space="preserve">0.30</text>
<text x="302.09" y="331.13" font-size="9.8" fill="#fff" stroke="#fff" stroke-width="0.2" xml:space="preserve">0.99</text>
<text x="327.07" y="331.13" font-size="9.8" fill="#fff" stroke="#fff" stroke-width="0.2" xml:space="preserve"> .00</text><path transform="translate(327.07,331.13) scale(0.00479,-0.00479)" d="M763 0L583 0L583 1147Q518 1085 412 1023Q306 961 221 930L221 1104Q372 1175 485 1276Q598 1377 645 1472L763 1472Z" fill="#fff" stroke="#fff" stroke-width="41.8"/>
<text x="352.04" y="331.13" font-size="9.8" fill="#fff" stroke="#fff" stroke-width="0.2" xml:space="preserve">0.99</text>
<text x="377.02" y="331.13" font-size="9.8" fill="#111" stroke="#111" stroke-width="0.2" xml:space="preserve">0.53</text>
<text x="402.00" y="331.13" font-size="9.8" fill="#111" stroke="#111" stroke-width="0.2" xml:space="preserve">0.28</text>
<text x="426.97" y="331.13" font-size="9.8" fill="#111" stroke="#111" stroke-width="0.2" xml:space="preserve">0.22</text>
<text x="125.62" y="355.11" font-size="9.8" fill="#111" stroke="#111" stroke-width="0.2" xml:space="preserve">·0.37</text>
<text x="150.60" y="355.11" font-size="9.8" fill="#111" stroke="#111" stroke-width="0.2" xml:space="preserve">·0.38</text>
<text x="175.57" y="355.11" font-size="9.8" fill="#111" stroke="#111" stroke-width="0.2" xml:space="preserve">·0.28</text>
<text x="200.55" y="355.11" font-size="9.8" fill="#111" stroke="#111" stroke-width="0.2" xml:space="preserve">·0.28</text>
<text x="227.16" y="355.11" font-size="9.8" fill="#111" stroke="#111" stroke-width="0.2" xml:space="preserve">0.32</text>
<text x="252.14" y="355.11" font-size="9.8" fill="#111" stroke="#111" stroke-width="0.2" xml:space="preserve">0. 9</text><path transform="translate(260.31,355.11) scale(0.00479,-0.00479)" d="M763 0L583 0L583 1147Q518 1085 412 1023Q306 961 221 930L221 1104Q372 1175 485 1276Q598 1377 645 1472L763 1472Z" fill="#111" stroke="#111" stroke-width="41.8"/>
<text x="277.11" y="355.11" font-size="9.8" fill="#111" stroke="#111" stroke-width="0.2" xml:space="preserve">0.24</text>
<text x="302.09" y="355.11" font-size="9.8" fill="#fff" stroke="#fff" stroke-width="0.2" xml:space="preserve">0.98</text>
<text x="327.07" y="355.11" font-size="9.8" fill="#fff" stroke="#fff" stroke-width="0.2" xml:space="preserve">0.99</text>
<text x="352.04" y="355.11" font-size="9.8" fill="#fff" stroke="#fff" stroke-width="0.2" xml:space="preserve"> .00</text><path transform="translate(352.04,355.11) scale(0.00479,-0.00479)" d="M763 0L583 0L583 1147Q518 1085 412 1023Q306 961 221 930L221 1104Q372 1175 485 1276Q598 1377 645 1472L763 1472Z" fill="#fff" stroke="#fff" stroke-width="41.8"/>
<text x="377.02" y="355.11" font-size="9.8" fill="#111" stroke="#111" stroke-width="0.2" xml:space="preserve">0.5 </text><path transform="translate(390.64,355.11) scale(0.00479,-0.00479)" d="M763 0L583 0L583 1147Q518 1085 412 1023Q306 961 221 930L221 1104Q372 1175 485 1276Q598 1377 645 1472L763 1472Z" fill="#111" stroke="#111" stroke-width="41.8"/>
<text x="402.00" y="355.11" font-size="9.8" fill="#111" stroke="#111" stroke-width="0.2" xml:space="preserve">0.3 </text><path transform="translate(415.62,355.11) scale(0.00479,-0.00479)" d="M763 0L583 0L583 1147Q518 1085 412 1023Q306 961 221 930L221 1104Q372 1175 485 1276Q598 1377 645 1472L763 1472Z" fill="#111" stroke="#111" stroke-width="41.8"/>
<text x="426.97" y="355.11" font-size="9.8" fill="#111" stroke="#111" stroke-width="0.2" xml:space="preserve">0.27</text>
<text x="125.62" y="379.09" font-size="9.8" fill="#111" stroke="#111" stroke-width="0.2" xml:space="preserve">·0.20</text>
<text x="150.60" y="379.09" font-size="9.8" fill="#111" stroke="#111" stroke-width="0.2" xml:space="preserve">·0.38</text>
<text x="175.57" y="379.09" font-size="9.8" fill="#111" stroke="#111" stroke-width="0.2" xml:space="preserve">·0.27</text>
<text x="200.55" y="379.09" font-size="9.8" fill="#111" stroke="#111" stroke-width="0.2" xml:space="preserve">·0.46</text>
<text x="227.16" y="379.09" font-size="9.8" fill="#111" stroke="#111" stroke-width="0.2" xml:space="preserve">0. 6</text><path transform="translate(235.33,379.09) scale(0.00479,-0.00479)" d="M763 0L583 0L583 1147Q518 1085 412 1023Q306 961 221 930L221 1104Q372 1175 485 1276Q598 1377 645 1472L763 1472Z" fill="#111" stroke="#111" stroke-width="41.8"/>
<text x="252.14" y="379.09" font-size="9.8" fill="#111" stroke="#111" stroke-width="0.2" xml:space="preserve">0.34</text>
<text x="277.11" y="379.09" font-size="9.8" fill="#111" stroke="#111" stroke-width="0.2" xml:space="preserve">0. 3</text><path transform="translate(285.29,379.09) scale(0.00479,-0.00479)" d="M763 0L583 0L583 1147Q518 1085 412 1023Q306 961 221 930L221 1104Q372 1175 485 1276Q598 1377 645 1472L763 1472Z" fill="#111" stroke="#111" stroke-width="41.8"/>
<text x="302.09" y="379.09" font-size="9.8" fill="#111" stroke="#111" stroke-width="0.2" xml:space="preserve">0.53</text>
<text x="327.07" y="379.09" font-size="9.8" fill="#111" stroke="#111" stroke-width="0.2" xml:space="preserve">0.53</text>
<text x="352.04" y="379.09" font-size="9.8" fill="#111" stroke="#111" stroke-width="0.2" xml:space="preserve">0.5 </text><path transform="translate(365.67,379.09) scale(0.00479,-0.00479)" d="M763 0L583 0L583 1147Q518 1085 412 1023Q306 961 221 930L221 1104Q372 1175 485 1276Q598 1377 645 1472L763 1472Z" fill="#111" stroke="#111" stroke-width="41.8"/>
<text x="377.02" y="379.09" font-size="9.8" fill="#fff" stroke="#fff" stroke-width="0.2" xml:space="preserve"> .00</text><path transform="translate(377.02,379.09) scale(0.00479,-0.00479)" d="M763 0L583 0L583 1147Q518 1085 412 1023Q306 961 221 930L221 1104Q372 1175 485 1276Q598 1377 645 1472L763 1472Z" fill="#fff" stroke="#fff" stroke-width="41.8"/>
<text x="402.00" y="379.09" font-size="9.8" fill="#111" stroke="#111" stroke-width="0.2" xml:space="preserve">0.29</text>
<text x="426.97" y="379.09" font-size="9.8" fill="#111" stroke="#111" stroke-width="0.2" xml:space="preserve">0.03</text>
<text x="125.62" y="403.06" font-size="9.8" fill="#111" stroke="#111" stroke-width="0.2" xml:space="preserve">·0. 0</text><path transform="translate(137.06,403.06) scale(0.00479,-0.00479)" d="M763 0L583 0L583 1147Q518 1085 412 1023Q306 961 221 930L221 1104Q372 1175 485 1276Q598 1377 645 1472L763 1472Z" fill="#111" stroke="#111" stroke-width="41.8"/>
<text x="150.60" y="403.06" font-size="9.8" fill="#111" stroke="#111" stroke-width="0.2" xml:space="preserve">·0.27</text>
<text x="175.57" y="403.06" font-size="9.8" fill="#111" stroke="#111" stroke-width="0.2" xml:space="preserve">·0.23</text>
<text x="200.55" y="403.06" font-size="9.8" fill="#111" stroke="#111" stroke-width="0.2" xml:space="preserve">·0.36</text>
<text x="227.16" y="403.06" font-size="9.8" fill="#111" stroke="#111" stroke-width="0.2" xml:space="preserve">0.24</text>
<text x="252.14" y="403.06" font-size="9.8" fill="#111" stroke="#111" stroke-width="0.2" xml:space="preserve">0.46</text>
<text x="277.11" y="403.06" font-size="9.8" fill="#111" stroke="#111" stroke-width="0.2" xml:space="preserve">0.47</text>
<text x="302.09" y="403.06" font-size="9.8" fill="#111" stroke="#111" stroke-width="0.2" xml:space="preserve">0.24</text>
<text x="327.07" y="403.06" font-size="9.8" fill="#111" stroke="#111" stroke-width="0.2" xml:space="preserve">0.28</text>
<text x="352.04" y="403.06" font-size="9.8" fill="#111" stroke="#111" stroke-width="0.2" xml:space="preserve">0.3 </text><path transform="translate(365.67,403.06) scale(0.00479,-0.00479)" d="M763 0L583 0L583 1147Q518 1085 412 1023Q306 961 221 930L221 1104Q372 1175 485 1276Q598 1377 645 1472L763 1472Z" fill="#111" stroke="#111" stroke-width="41.8"/>
<text x="377.02" y="403.06" font-size="9.8" fill="#111" stroke="#111" stroke-width="0.2" xml:space="preserve">0.29</text>
<text x="402.00" y="403.06" font-size="9.8" fill="#fff" stroke="#fff" stroke-width="0.2" xml:space="preserve"> .00</text><path transform="translate(402.00,403.06) scale(0.00479,-0.00479)" d="M763 0L583 0L583 1147Q518 1085 412 1023Q306 961 221 930L221 1104Q372 1175 485 1276Q598 1377 645 1472L763 1472Z" fill="#fff" stroke="#fff" stroke-width="41.8"/>
<text x="426.97" y="403.06" font-size="9.8" fill="#111" stroke="#111" stroke-width="0.2" xml:space="preserve">0.08</text>
<text x="125.62" y="427.04" font-size="9.8" fill="#111" stroke="#111" stroke-width="0.2" xml:space="preserve">·0.0 </text><path transform="translate(142.51,427.04) scale(0.00479,-0.00479)" d="M763 0L583 0L583 1147Q518 1085 412 1023Q306 961 221 930L221 1104Q372 1175 485 1276Q598 1377 645 1472L763 1472Z" fill="#111" stroke="#111" stroke-width="41.8"/>
<text x="150.60" y="427.04" font-size="9.8" fill="#111" stroke="#111" stroke-width="0.2" xml:space="preserve">·0.23</text>
<text x="175.57" y="427.04" font-size="9.8" fill="#111" stroke="#111" stroke-width="0.2" xml:space="preserve">·0. 0</text><path transform="translate(187.01,427.04) scale(0.00479,-0.00479)" d="M763 0L583 0L583 1147Q518 1085 412 1023Q306 961 221 930L221 1104Q372 1175 485 1276Q598 1377 645 1472L763 1472Z" fill="#111" stroke="#111" stroke-width="41.8"/>
<text x="200.55" y="427.04" font-size="9.8" fill="#111" stroke="#111" stroke-width="0.2" xml:space="preserve">·0. 7</text><path transform="translate(211.99,427.04) scale(0.00479,-0.00479)" d="M763 0L583 0L583 1147Q518 1085 412 1023Q306 961 221 930L221 1104Q372 1175 485 1276Q598 1377 645 1472L763 1472Z" fill="#111" stroke="#111" stroke-width="41.8"/>
<text x="225.53" y="427.04" font-size="9.8" fill="#111" stroke="#111" stroke-width="0.2" xml:space="preserve">·0.04</text>
<text x="252.14" y="427.04" font-size="9.8" fill="#111" stroke="#111" stroke-width="0.2" xml:space="preserve">0. 9</text><path transform="translate(260.31,427.04) scale(0.00479,-0.00479)" d="M763 0L583 0L583 1147Q518 1085 412 1023Q306 961 221 930L221 1104Q372 1175 485 1276Q598 1377 645 1472L763 1472Z" fill="#111" stroke="#111" stroke-width="41.8"/>
<text x="275.48" y="427.04" font-size="9.8" fill="#111" stroke="#111" stroke-width="0.2" xml:space="preserve">·0. 4</text><path transform="translate(286.92,427.04) scale(0.00479,-0.00479)" d="M763 0L583 0L583 1147Q518 1085 412 1023Q306 961 221 930L221 1104Q372 1175 485 1276Q598 1377 645 1472L763 1472Z" fill="#111" stroke="#111" stroke-width="41.8"/>
<text x="302.09" y="427.04" font-size="9.8" fill="#111" stroke="#111" stroke-width="0.2" xml:space="preserve">0. 9</text><path transform="translate(310.26,427.04) scale(0.00479,-0.00479)" d="M763 0L583 0L583 1147Q518 1085 412 1023Q306 961 221 930L221 1104Q372 1175 485 1276Q598 1377 645 1472L763 1472Z" fill="#111" stroke="#111" stroke-width="41.8"/>
<text x="327.07" y="427.04" font-size="9.8" fill="#111" stroke="#111" stroke-width="0.2" xml:space="preserve">0.22</text>
<text x="352.04" y="427.04" font-size="9.8" fill="#111" stroke="#111" stroke-width="0.2" xml:space="preserve">0.27</text>
<text x="377.02" y="427.04" font-size="9.8" fill="#111" stroke="#111" stroke-width="0.2" xml:space="preserve">0.03</text>
<text x="402.00" y="427.04" font-size="9.8" fill="#111" stroke="#111" stroke-width="0.2" xml:space="preserve">0.08</text>
<text x="426.97" y="427.04" font-size="9.8" fill="#fff" stroke="#fff" stroke-width="0.2" xml:space="preserve"> .00</text><path transform="translate(426.97,427.04) scale(0.00479,-0.00479)" d="M763 0L583 0L583 1147Q518 1085 412 1023Q306 961 221 930L221 1104Q372 1175 485 1276Q598 1377 645 1472L763 1472Z" fill="#fff" stroke="#fff" stroke-width="41.8"/>
<rect x="124.3" y="123.8" width="324.7" height="311.7" fill="none" stroke="#000" stroke-width="2"/>
<text transform="translate(118.6,139.89) scale(0.9400,1)" font-size="12.2" text-anchor="end" fill="#000" stroke="#000" stroke-width="0.15">Platelet (Highest)</text>
<text transform="translate(118.6,163.87) scale(0.9400,1)" font-size="12.2" text-anchor="end" fill="#000" stroke="#000" stroke-width="0.15">Platelet (Lowest)</text>
<text transform="translate(118.6,187.84) scale(0.9400,1)" font-size="12.2" text-anchor="end" fill="#000" stroke="#000" stroke-width="0.15">Fibrinogen (Lowest)</text>
<text transform="translate(118.6,211.82) scale(0.9400,1)" font-size="12.2" text-anchor="end" fill="#000" stroke="#000" stroke-width="0.15">Hemoglobin (Lowest)</text>
<text transform="translate(118.6,235.80) scale(0.9118,1)" font-size="12.2" text-anchor="end" fill="#000" stroke="#000" stroke-width="0.15">D·dimer</text>
<text transform="translate(118.6,259.77) scale(0.9776,1)" font-size="12.2" text-anchor="end" fill="#000" stroke="#000" stroke-width="0.15">CRP</text>
<text transform="translate(118.6,283.75) scale(0.9682,1)" font-size="12.2" text-anchor="end" fill="#000" stroke="#000" stroke-width="0.15">LDH</text>
<text transform="translate(118.6,307.73) scale(0.9212,1)" font-size="12.2" text-anchor="end" fill="#000" stroke="#000" stroke-width="0.15">Ferritin</text>
<text transform="translate(118.6,331.70) scale(0.8930,1)" font-size="12.2" text-anchor="end" fill="#000" stroke="#000" stroke-width="0.15">AST</text>
<text transform="translate(118.6,355.68) scale(0.8601,1)" font-size="12.2" text-anchor="end" fill="#000" stroke="#000" stroke-width="0.15">ALT</text>
<text transform="translate(118.6,379.66) scale(0.8930,1)" font-size="12.2" text-anchor="end" fill="#000" stroke="#000" stroke-width="0.15">PT</text>
<text transform="translate(118.6,403.63) scale(0.8836,1)" font-size="12.2" text-anchor="end" fill="#000" stroke="#000" stroke-width="0.15">PTT</text>
<text transform="translate(118.6,427.61) scale(1.0208,1)" font-size="12.2" text-anchor="end" fill="#000" stroke="#000" stroke-width="0.15">sC5B9</text>
<text transform="translate(140.89,117.7) rotate(-90) scale(0.9400,1)" font-size="12.2" fill="#000" stroke="#000" stroke-width="0.15">Platelet (Highest)</text>
<text transform="translate(165.87,117.7) rotate(-90) scale(0.9400,1)" font-size="12.2" fill="#000" stroke="#000" stroke-width="0.15">Platelet (Lowest)</text>
<text transform="translate(190.84,117.7) rotate(-90) scale(0.9400,1)" font-size="12.2" fill="#000" stroke="#000" stroke-width="0.15">Fibrinogen (Lowest)</text>
<text transform="translate(215.82,117.7) rotate(-90) scale(0.9400,1)" font-size="12.2" fill="#000" stroke="#000" stroke-width="0.15">Hemoglobin (Lowest)</text>
<text transform="translate(240.80,117.7) rotate(-90) scale(0.9118,1)" font-size="12.2" fill="#000" stroke="#000" stroke-width="0.15">D·dimer</text>
<text transform="translate(265.77,117.7) rotate(-90) scale(0.9776,1)" font-size="12.2" fill="#000" stroke="#000" stroke-width="0.15">CRP</text>
<text transform="translate(290.75,117.7) rotate(-90) scale(0.9682,1)" font-size="12.2" fill="#000" stroke="#000" stroke-width="0.15">LDH</text>
<text transform="translate(315.73,117.7) rotate(-90) scale(0.9212,1)" font-size="12.2" fill="#000" stroke="#000" stroke-width="0.15">Ferritin</text>
<text transform="translate(340.70,117.7) rotate(-90) scale(0.8930,1)" font-size="12.2" fill="#000" stroke="#000" stroke-width="0.15">AST</text>
<text transform="translate(365.68,117.7) rotate(-90) scale(0.8601,1)" font-size="12.2" fill="#000" stroke="#000" stroke-width="0.15">ALT</text>
<text transform="translate(390.66,117.7) rotate(-90) scale(0.8930,1)" font-size="12.2" fill="#000" stroke="#000" stroke-width="0.15">PT</text>
<text transform="translate(415.63,117.7) rotate(-90) scale(0.8836,1)" font-size="12.2" fill="#000" stroke="#000" stroke-width="0.15">PTT</text>
<text transform="translate(440.61,117.7) rotate(-90) scale(1.0208,1)" font-size="12.2" fill="#000" stroke="#000" stroke-width="0.15">sC5B9</text>
<rect x="124.25" y="488.85" width="26.06" height="24.96" fill="#fff"/>
<rect x="149.31" y="488.85" width="26.06" height="24.96" fill="rgb(209,209,255)"/>
<rect x="174.37" y="488.85" width="26.06" height="24.96" fill="rgb(17,17,255)"/>
<rect x="199.42" y="488.85" width="26.06" height="24.96" fill="rgb(44,44,255)"/>
<rect x="224.48" y="488.85" width="26.06" height="24.96" fill="rgb(116,116,255)"/>
<rect x="249.54" y="488.85" width="26.06" height="24.96" fill="rgb(225,225,255)"/>
<rect x="274.60" y="488.85" width="26.06" height="24.96" fill="rgb(39,39,255)"/>
<rect x="299.65" y="488.85" width="26.06" height="24.96" fill="rgb(239,239,255)"/>
<rect x="324.71" y="488.85" width="26.06" height="24.96" fill="rgb(244,244,255)"/>
<rect x="349.77" y="488.85" width="26.06" height="24.96" fill="rgb(243,243,255)"/>
<rect x="374.83" y="488.85" width="26.06" height="24.96" fill="rgb(173,173,255)"/>
<rect x="399.88" y="488.85" width="26.06" height="24.96" fill="rgb(94,94,255)"/>
<rect x="424.94" y="488.85" width="25.06" height="24.96" fill="rgb(0,0,255)"/>
<rect x="124.25" y="512.81" width="26.06" height="24.96" fill="rgb(209,209,255)"/>
<rect x="149.31" y="512.81" width="26.06" height="24.96" fill="#fff"/>
<rect x="174.37" y="512.81" width="26.06" height="24.96" fill="#fff"/>
<rect x="199.42" y="512.81" width="26.06" height="24.96" fill="#fff"/>
<rect x="224.48" y="512.81" width="26.06" height="24.96" fill="rgb(250,250,255)"/>
<rect x="249.54" y="512.81" width="26.06" height="24.96" fill="rgb(214,214,255)"/>
<rect x="274.60" y="512.81" width="26.06" height="24.96" fill="rgb(203,203,255)"/>
<rect x="299.65" y="512.81" width="26.06" height="24.96" fill="rgb(240,240,255)"/>
<rect x="324.71" y="512.81" width="26.06" height="24.96" fill="rgb(246,246,255)"/>
<rect x="349.77" y="512.81" width="26.06" height="24.96" fill="rgb(245,245,255)"/>
<rect x="374.83" y="512.81" width="26.06" height="24.96" fill="rgb(243,243,255)"/>
<rect x="399.88" y="512.81" width="26.06" height="24.96" fill="rgb(210,210,255)"/>
<rect x="424.94" y="512.81" width="25.06" height="24.96" fill="rgb(192,192,255)"/>
<rect x="124.25" y="536.77" width="26.06" height="24.96" fill="rgb(17,17,255)"/>
<rect x="149.31" y="536.77" width="26.06" height="24.96" fill="#fff"/>
<rect x="174.37" y="536.77" width="26.06" height="24.96" fill="#fff"/>
<rect x="199.42" y="536.77" width="26.06" height="24.96" fill="rgb(251,251,255)"/>
<rect x="224.48" y="536.77" width="26.06" height="24.96" fill="rgb(250,250,255)"/>
<rect x="249.54" y="536.77" width="26.06" height="24.96" fill="rgb(150,150,255)"/>
<rect x="274.60" y="536.77" width="26.06" height="24.96" fill="rgb(170,170,255)"/>
<rect x="299.65" y="536.77" width="26.06" height="24.96" fill="rgb(214,214,255)"/>
<rect x="324.71" y="536.77" width="26.06" height="24.96" fill="rgb(209,209,255)"/>
<rect x="349.77" y="536.77" width="26.06" height="24.96" fill="rgb(212,212,255)"/>
<rect x="374.83" y="536.77" width="26.06" height="24.96" fill="rgb(210,210,255)"/>
<rect x="399.88" y="536.77" width="26.06" height="24.96" fill="rgb(190,190,255)"/>
<rect x="424.94" y="536.77" width="25.06" height="24.96" fill="rgb(94,94,255)"/>
<rect x="124.25" y="560.72" width="26.06" height="24.96" fill="rgb(44,44,255)"/>
<rect x="149.31" y="560.72" width="26.06" height="24.96" fill="#fff"/>
<rect x="174.37" y="560.72" width="26.06" height="24.96" fill="rgb(251,251,255)"/>
<rect x="199.42" y="560.72" width="26.06" height="24.96" fill="#fff"/>
<rect x="224.48" y="560.72" width="26.06" height="24.96" fill="rgb(253,253,255)"/>
<rect x="249.54" y="560.72" width="26.06" height="24.96" fill="rgb(254,254,255)"/>
<rect x="274.60" y="560.72" width="26.06" height="24.96" fill="rgb(246,246,255)"/>
<rect x="299.65" y="560.72" width="26.06" height="24.96" fill="rgb(216,216,255)"/>
<rect x="324.71" y="560.72" width="26.06" height="24.96" fill="rgb(222,222,255)"/>
<rect x="349.77" y="560.72" width="26.06" height="24.96" fill="rgb(218,218,255)"/>
<rect x="374.83" y="560.72" width="26.06" height="24.96" fill="rgb(252,252,255)"/>
<rect x="399.88" y="560.72" width="26.06" height="24.96" fill="rgb(240,240,255)"/>
<rect x="424.94" y="560.72" width="25.06" height="24.96" fill="rgb(151,151,255)"/>
<rect x="124.25" y="584.68" width="26.06" height="24.96" fill="rgb(116,116,255)"/>
<rect x="149.31" y="584.68" width="26.06" height="24.96" fill="rgb(250,250,255)"/>
<rect x="174.37" y="584.68" width="26.06" height="24.96" fill="rgb(250,250,255)"/>
<rect x="199.42" y="584.68" width="26.06" height="24.96" fill="rgb(253,253,255)"/>
<rect x="224.48" y="584.68" width="26.06" height="24.96" fill="#fff"/>
<rect x="249.54" y="584.68" width="26.06" height="24.96" fill="rgb(254,254,255)"/>
<rect x="274.60" y="584.68" width="26.06" height="24.96" fill="rgb(255,255,255)"/>
<rect x="299.65" y="584.68" width="26.06" height="24.96" fill="rgb(234,234,255)"/>
<rect x="324.71" y="584.68" width="26.06" height="24.96" fill="rgb(233,233,255)"/>
<rect x="349.77" y="584.68" width="26.06" height="24.96" fill="rgb(229,229,255)"/>
<rect x="374.83" y="584.68" width="26.06" height="24.96" fill="rgb(146,146,255)"/>
<rect x="399.88" y="584.68" width="26.06" height="24.96" fill="rgb(199,199,255)"/>
<rect x="424.94" y="584.68" width="25.06" height="24.96" fill="rgb(35,35,255)"/>
<rect x="124.25" y="608.64" width="26.06" height="24.96" fill="rgb(225,225,255)"/>
<rect x="149.31" y="608.64" width="26.06" height="24.96" fill="rgb(214,214,255)"/>
<rect x="174.37" y="608.64" width="26.06" height="24.96" fill="rgb(150,150,255)"/>
<rect x="199.42" y="608.64" width="26.06" height="24.96" fill="rgb(254,254,255)"/>
<rect x="224.48" y="608.64" width="26.06" height="24.96" fill="rgb(254,254,255)"/>
<rect x="249.54" y="608.64" width="26.06" height="24.96" fill="#fff"/>
<rect x="274.60" y="608.64" width="26.06" height="24.96" fill="rgb(254,254,255)"/>
<rect x="299.65" y="608.64" width="26.06" height="24.96" fill="rgb(174,174,255)"/>
<rect x="324.71" y="608.64" width="26.06" height="24.96" fill="rgb(173,173,255)"/>
<rect x="349.77" y="608.64" width="26.06" height="24.96" fill="rgb(170,170,255)"/>
<rect x="374.83" y="608.64" width="26.06" height="24.96" fill="rgb(237,237,255)"/>
<rect x="399.88" y="608.64" width="26.06" height="24.96" fill="rgb(251,251,255)"/>
<rect x="424.94" y="608.64" width="25.06" height="24.96" fill="rgb(167,167,255)"/>
<rect x="124.25" y="632.60" width="26.06" height="24.96" fill="rgb(39,39,255)"/>
<rect x="149.31" y="632.60" width="26.06" height="24.96" fill="rgb(203,203,255)"/>
<rect x="174.37" y="632.60" width="26.06" height="24.96" fill="rgb(170,170,255)"/>
<rect x="199.42" y="632.60" width="26.06" height="24.96" fill="rgb(246,246,255)"/>
<rect x="224.48" y="632.60" width="26.06" height="24.96" fill="rgb(255,255,255)"/>
<rect x="249.54" y="632.60" width="26.06" height="24.96" fill="rgb(254,254,255)"/>
<rect x="274.60" y="632.60" width="26.06" height="24.96" fill="#fff"/>
<rect x="299.65" y="632.60" width="26.06" height="24.96" fill="rgb(223,223,255)"/>
<rect x="324.71" y="632.60" width="26.06" height="24.96" fill="rgb(215,215,255)"/>
<rect x="349.77" y="632.60" width="26.06" height="24.96" fill="rgb(188,188,255)"/>
<rect x="374.83" y="632.60" width="26.06" height="24.96" fill="rgb(112,112,255)"/>
<rect x="399.88" y="632.60" width="26.06" height="24.96" fill="rgb(249,249,255)"/>
<rect x="424.94" y="632.60" width="25.06" height="24.96" fill="rgb(120,120,255)"/>
<rect x="124.25" y="656.55" width="26.06" height="24.96" fill="rgb(239,239,255)"/>
<rect x="149.31" y="656.55" width="26.06" height="24.96" fill="rgb(240,240,255)"/>
<rect x="174.37" y="656.55" width="26.06" height="24.96" fill="rgb(214,214,255)"/>
<rect x="199.42" y="656.55" width="26.06" height="24.96" fill="rgb(216,216,255)"/>
<rect x="224.48" y="656.55" width="26.06" height="24.96" fill="rgb(234,234,255)"/>
<rect x="249.54" y="656.55" width="26.06" height="24.96" fill="rgb(174,174,255)"/>
<rect x="274.60" y="656.55" width="26.06" height="24.96" fill="rgb(223,223,255)"/>
<rect x="299.65" y="656.55" width="26.06" height="24.96" fill="#fff"/>
<rect x="324.71" y="656.55" width="26.06" height="24.96" fill="#fff"/>
<rect x="349.77" y="656.55" width="26.06" height="24.96" fill="#fff"/>
<rect x="374.83" y="656.55" width="26.06" height="24.96" fill="rgb(254,254,255)"/>
<rect x="399.88" y="656.55" width="26.06" height="24.96" fill="rgb(192,192,255)"/>
<rect x="424.94" y="656.55" width="25.06" height="24.96" fill="rgb(164,164,255)"/>
<rect x="124.25" y="680.51" width="26.06" height="24.96" fill="rgb(244,244,255)"/>
<rect x="149.31" y="680.51" width="26.06" height="24.96" fill="rgb(246,246,255)"/>
<rect x="174.37" y="680.51" width="26.06" height="24.96" fill="rgb(209,209,255)"/>
<rect x="199.42" y="680.51" width="26.06" height="24.96" fill="rgb(222,222,255)"/>
<rect x="224.48" y="680.51" width="26.06" height="24.96" fill="rgb(233,233,255)"/>
<rect x="249.54" y="680.51" width="26.06" height="24.96" fill="rgb(173,173,255)"/>
<rect x="274.60" y="680.51" width="26.06" height="24.96" fill="rgb(215,215,255)"/>
<rect x="299.65" y="680.51" width="26.06" height="24.96" fill="#fff"/>
<rect x="324.71" y="680.51" width="26.06" height="24.96" fill="#fff"/>
<rect x="349.77" y="680.51" width="26.06" height="24.96" fill="#fff"/>
<rect x="374.83" y="680.51" width="26.06" height="24.96" fill="rgb(254,254,255)"/>
<rect x="399.88" y="680.51" width="26.06" height="24.96" fill="rgb(216,216,255)"/>
<rect x="424.94" y="680.51" width="25.06" height="24.96" fill="rgb(191,191,255)"/>
<rect x="124.25" y="704.47" width="26.06" height="24.96" fill="rgb(243,243,255)"/>
<rect x="149.31" y="704.47" width="26.06" height="24.96" fill="rgb(245,245,255)"/>
<rect x="174.37" y="704.47" width="26.06" height="24.96" fill="rgb(212,212,255)"/>
<rect x="199.42" y="704.47" width="26.06" height="24.96" fill="rgb(218,218,255)"/>
<rect x="224.48" y="704.47" width="26.06" height="24.96" fill="rgb(229,229,255)"/>
<rect x="249.54" y="704.47" width="26.06" height="24.96" fill="rgb(170,170,255)"/>
<rect x="274.60" y="704.47" width="26.06" height="24.96" fill="rgb(188,188,255)"/>
<rect x="299.65" y="704.47" width="26.06" height="24.96" fill="#fff"/>
<rect x="324.71" y="704.47" width="26.06" height="24.96" fill="#fff"/>
<rect x="349.77" y="704.47" width="26.06" height="24.96" fill="#fff"/>
<rect x="374.83" y="704.47" width="26.06" height="24.96" fill="rgb(254,254,255)"/>
<rect x="399.88" y="704.47" width="26.06" height="24.96" fill="rgb(226,226,255)"/>
<rect x="424.94" y="704.47" width="25.06" height="24.96" fill="rgb(212,212,255)"/>
<rect x="124.25" y="728.43" width="26.06" height="24.96" fill="rgb(173,173,255)"/>
<rect x="149.31" y="728.43" width="26.06" height="24.96" fill="rgb(243,243,255)"/>
<rect x="174.37" y="728.43" width="26.06" height="24.96" fill="rgb(210,210,255)"/>
<rect x="199.42" y="728.43" width="26.06" height="24.96" fill="rgb(252,252,255)"/>
<rect x="224.48" y="728.43" width="26.06" height="24.96" fill="rgb(146,146,255)"/>
<rect x="249.54" y="728.43" width="26.06" height="24.96" fill="rgb(237,237,255)"/>
<rect x="274.60" y="728.43" width="26.06" height="24.96" fill="rgb(112,112,255)"/>
<rect x="299.65" y="728.43" width="26.06" height="24.96" fill="rgb(254,254,255)"/>
<rect x="324.71" y="728.43" width="26.06" height="24.96" fill="rgb(254,254,255)"/>
<rect x="349.77" y="728.43" width="26.06" height="24.96" fill="rgb(254,254,255)"/>
<rect x="374.83" y="728.43" width="26.06" height="24.96" fill="#fff"/>
<rect x="399.88" y="728.43" width="26.06" height="24.96" fill="rgb(220,220,255)"/>
<rect x="424.94" y="728.43" width="25.06" height="24.96" fill="rgb(26,26,255)"/>
<rect x="124.25" y="752.38" width="26.06" height="24.96" fill="rgb(94,94,255)"/>
<rect x="149.31" y="752.38" width="26.06" height="24.96" fill="rgb(210,210,255)"/>
<rect x="174.37" y="752.38" width="26.06" height="24.96" fill="rgb(190,190,255)"/>
<rect x="199.42" y="752.38" width="26.06" height="24.96" fill="rgb(240,240,255)"/>
<rect x="224.48" y="752.38" width="26.06" height="24.96" fill="rgb(199,199,255)"/>
<rect x="249.54" y="752.38" width="26.06" height="24.96" fill="rgb(251,251,255)"/>
<rect x="274.60" y="752.38" width="26.06" height="24.96" fill="rgb(249,249,255)"/>
<rect x="299.65" y="752.38" width="26.06" height="24.96" fill="rgb(192,192,255)"/>
<rect x="324.71" y="752.38" width="26.06" height="24.96" fill="rgb(216,216,255)"/>
<rect x="349.77" y="752.38" width="26.06" height="24.96" fill="rgb(226,226,255)"/>
<rect x="374.83" y="752.38" width="26.06" height="24.96" fill="rgb(220,220,255)"/>
<rect x="399.88" y="752.38" width="26.06" height="24.96" fill="#fff"/>
<rect x="424.94" y="752.38" width="25.06" height="24.96" fill="rgb(70,70,255)"/>
<rect x="124.25" y="776.34" width="26.06" height="23.96" fill="rgb(0,0,255)"/>
<rect x="149.31" y="776.34" width="26.06" height="23.96" fill="rgb(192,192,255)"/>
<rect x="174.37" y="776.34" width="26.06" height="23.96" fill="rgb(94,94,255)"/>
<rect x="199.42" y="776.34" width="26.06" height="23.96" fill="rgb(151,151,255)"/>
<rect x="224.48" y="776.34" width="26.06" height="23.96" fill="rgb(35,35,255)"/>
<rect x="249.54" y="776.34" width="26.06" height="23.96" fill="rgb(167,167,255)"/>
<rect x="274.60" y="776.34" width="26.06" height="23.96" fill="rgb(120,120,255)"/>
<rect x="299.65" y="776.34" width="26.06" height="23.96" fill="rgb(164,164,255)"/>
<rect x="324.71" y="776.34" width="26.06" height="23.96" fill="rgb(191,191,255)"/>
<rect x="349.77" y="776.34" width="26.06" height="23.96" fill="rgb(212,212,255)"/>
<rect x="374.83" y="776.34" width="26.06" height="23.96" fill="rgb(26,26,255)"/>
<rect x="399.88" y="776.34" width="26.06" height="23.96" fill="rgb(70,70,255)"/>
<rect x="424.94" y="776.34" width="25.06" height="23.96" fill="#fff"/>
<line x1="124.25" y1="488.85" x2="450.0" y2="800.3" stroke="#000" stroke-width="1.3"/>
<line x1="124.25" y1="512.81" x2="149.31" y2="488.85" stroke="#000" stroke-width="1.3"/>
<line x1="149.31" y1="536.77" x2="174.37" y2="512.81" stroke="#000" stroke-width="1.3"/>
<line x1="174.37" y1="560.72" x2="199.42" y2="536.77" stroke="#000" stroke-width="1.3"/>
<line x1="199.42" y1="584.68" x2="224.48" y2="560.72" stroke="#000" stroke-width="1.3"/>
<line x1="224.48" y1="608.64" x2="249.54" y2="584.68" stroke="#000" stroke-width="1.3"/>
<line x1="249.54" y1="632.60" x2="274.60" y2="608.64" stroke="#000" stroke-width="1.3"/>
<line x1="274.60" y1="656.55" x2="299.65" y2="632.60" stroke="#000" stroke-width="1.3"/>
<line x1="299.65" y1="680.51" x2="324.71" y2="656.55" stroke="#000" stroke-width="1.3"/>
<line x1="324.71" y1="704.47" x2="349.77" y2="680.51" stroke="#000" stroke-width="1.3"/>
<line x1="349.77" y1="728.43" x2="374.83" y2="704.47" stroke="#000" stroke-width="1.3"/>
<line x1="374.83" y1="752.38" x2="399.88" y2="728.43" stroke="#000" stroke-width="1.3"/>
<line x1="399.88" y1="776.34" x2="424.94" y2="752.38" stroke="#000" stroke-width="1.3"/>
<line x1="424.94" y1="800.30" x2="450.00" y2="776.34" stroke="#000" stroke-width="1.3"/>
<text x="151.58" y="503.78" font-size="8.2" fill="#111" stroke="#111" stroke-width="0.2" xml:space="preserve">0. 74</text><path transform="translate(158.42,503.78) scale(0.00400,-0.00400)" d="M763 0L583 0L583 1147Q518 1085 412 1023Q306 961 221 930L221 1104Q372 1175 485 1276Q598 1377 645 1472L763 1472Z" fill="#111" stroke="#111" stroke-width="50.0"/>
<text x="176.63" y="503.78" font-size="8.2" fill="#fff" stroke="#fff" stroke-width="0.2" xml:space="preserve">0.895</text>
<text x="201.69" y="503.78" font-size="8.2" fill="#fff" stroke="#fff" stroke-width="0.2" xml:space="preserve">0.792</text>
<text x="226.75" y="503.78" font-size="8.2" fill="#111" stroke="#111" stroke-width="0.2" xml:space="preserve">0.523</text>
<text x="251.81" y="503.78" font-size="8.2" fill="#111" stroke="#111" stroke-width="0.2" xml:space="preserve">0.   </text><path transform="translate(258.65,503.78) scale(0.00400,-0.00400)" d="M763 0L583 0L583 1147Q518 1085 412 1023Q306 961 221 930L221 1104Q372 1175 485 1276Q598 1377 645 1472L763 1472Z" fill="#111" stroke="#111" stroke-width="50.0"/><path transform="translate(263.21,503.78) scale(0.00400,-0.00400)" d="M763 0L583 0L583 1147Q518 1085 412 1023Q306 961 221 930L221 1104Q372 1175 485 1276Q598 1377 645 1472L763 1472Z" fill="#111" stroke="#111" stroke-width="50.0"/><path transform="translate(267.77,503.78) scale(0.00400,-0.00400)" d="M763 0L583 0L583 1147Q518 1085 412 1023Q306 961 221 930L221 1104Q372 1175 485 1276Q598 1377 645 1472L763 1472Z" fill="#111" stroke="#111" stroke-width="50.0"/>
<text x="276.86" y="503.78" font-size="8.2" fill="#fff" stroke="#fff" stroke-width="0.2" xml:space="preserve">0.8 2</text><path transform="translate(288.26,503.78) scale(0.00400,-0.00400)" d="M763 0L583 0L583 1147Q518 1085 412 1023Q306 961 221 930L221 1104Q372 1175 485 1276Q598 1377 645 1472L763 1472Z" fill="#fff" stroke="#fff" stroke-width="50.0"/>
<text x="301.92" y="503.78" font-size="8.2" fill="#111" stroke="#111" stroke-width="0.2" xml:space="preserve">0.060</text>
<text x="326.98" y="503.78" font-size="8.2" fill="#111" stroke="#111" stroke-width="0.2" xml:space="preserve">0.042</text>
<text x="352.04" y="503.78" font-size="8.2" fill="#111" stroke="#111" stroke-width="0.2" xml:space="preserve">0.046</text>
<text x="377.10" y="503.78" font-size="8.2" fill="#111" stroke="#111" stroke-width="0.2" xml:space="preserve">0.309</text>
<text x="402.15" y="503.78" font-size="8.2" fill="#fff" stroke="#fff" stroke-width="0.2" xml:space="preserve">0.606</text>
<text x="427.21" y="503.78" font-size="8.2" fill="#fff" stroke="#fff" stroke-width="0.2" xml:space="preserve">0.958</text>
<text x="126.52" y="527.74" font-size="8.2" fill="#111" stroke="#111" stroke-width="0.2" xml:space="preserve">0. 74</text><path transform="translate(133.36,527.74) scale(0.00400,-0.00400)" d="M763 0L583 0L583 1147Q518 1085 412 1023Q306 961 221 930L221 1104Q372 1175 485 1276Q598 1377 645 1472L763 1472Z" fill="#111" stroke="#111" stroke-width="50.0"/>
<text x="226.75" y="527.74" font-size="8.2" fill="#111" stroke="#111" stroke-width="0.2" xml:space="preserve">0.020</text>
<text x="251.81" y="527.74" font-size="8.2" fill="#111" stroke="#111" stroke-width="0.2" xml:space="preserve">0. 53</text><path transform="translate(258.65,527.74) scale(0.00400,-0.00400)" d="M763 0L583 0L583 1147Q518 1085 412 1023Q306 961 221 930L221 1104Q372 1175 485 1276Q598 1377 645 1472L763 1472Z" fill="#111" stroke="#111" stroke-width="50.0"/>
<text x="276.86" y="527.74" font-size="8.2" fill="#111" stroke="#111" stroke-width="0.2" xml:space="preserve">0. 94</text><path transform="translate(283.70,527.74) scale(0.00400,-0.00400)" d="M763 0L583 0L583 1147Q518 1085 412 1023Q306 961 221 930L221 1104Q372 1175 485 1276Q598 1377 645 1472L763 1472Z" fill="#111" stroke="#111" stroke-width="50.0"/>
<text x="301.92" y="527.74" font-size="8.2" fill="#111" stroke="#111" stroke-width="0.2" xml:space="preserve">0.056</text>
<text x="326.98" y="527.74" font-size="8.2" fill="#111" stroke="#111" stroke-width="0.2" xml:space="preserve">0.034</text>
<text x="352.04" y="527.74" font-size="8.2" fill="#111" stroke="#111" stroke-width="0.2" xml:space="preserve">0.039</text>
<text x="377.10" y="527.74" font-size="8.2" fill="#111" stroke="#111" stroke-width="0.2" xml:space="preserve">0.044</text>
<text x="402.15" y="527.74" font-size="8.2" fill="#111" stroke="#111" stroke-width="0.2" xml:space="preserve">0. 68</text><path transform="translate(408.99,527.74) scale(0.00400,-0.00400)" d="M763 0L583 0L583 1147Q518 1085 412 1023Q306 961 221 930L221 1104Q372 1175 485 1276Q598 1377 645 1472L763 1472Z" fill="#111" stroke="#111" stroke-width="50.0"/>
<text x="427.21" y="527.74" font-size="8.2" fill="#111" stroke="#111" stroke-width="0.2" xml:space="preserve">0.235</text>
<text x="126.52" y="551.70" font-size="8.2" fill="#fff" stroke="#fff" stroke-width="0.2" xml:space="preserve">0.895</text>
<text x="201.69" y="551.70" font-size="8.2" fill="#111" stroke="#111" stroke-width="0.2" xml:space="preserve">0.0 4</text><path transform="translate(213.09,551.70) scale(0.00400,-0.00400)" d="M763 0L583 0L583 1147Q518 1085 412 1023Q306 961 221 930L221 1104Q372 1175 485 1276Q598 1377 645 1472L763 1472Z" fill="#111" stroke="#111" stroke-width="50.0"/>
<text x="226.75" y="551.70" font-size="8.2" fill="#111" stroke="#111" stroke-width="0.2" xml:space="preserve">0.0 7</text><path transform="translate(238.15,551.70) scale(0.00400,-0.00400)" d="M763 0L583 0L583 1147Q518 1085 412 1023Q306 961 221 930L221 1104Q372 1175 485 1276Q598 1377 645 1472L763 1472Z" fill="#111" stroke="#111" stroke-width="50.0"/>
<text x="251.81" y="551.70" font-size="8.2" fill="#111" stroke="#111" stroke-width="0.2" xml:space="preserve">0.394</text>
<text x="276.86" y="551.70" font-size="8.2" fill="#111" stroke="#111" stroke-width="0.2" xml:space="preserve">0.32 </text><path transform="translate(292.82,551.70) scale(0.00400,-0.00400)" d="M763 0L583 0L583 1147Q518 1085 412 1023Q306 961 221 930L221 1104Q372 1175 485 1276Q598 1377 645 1472L763 1472Z" fill="#111" stroke="#111" stroke-width="50.0"/>
<text x="301.92" y="551.70" font-size="8.2" fill="#111" stroke="#111" stroke-width="0.2" xml:space="preserve">0. 55</text><path transform="translate(308.76,551.70) scale(0.00400,-0.00400)" d="M763 0L583 0L583 1147Q518 1085 412 1023Q306 961 221 930L221 1104Q372 1175 485 1276Q598 1377 645 1472L763 1472Z" fill="#111" stroke="#111" stroke-width="50.0"/>
<text x="326.98" y="551.70" font-size="8.2" fill="#111" stroke="#111" stroke-width="0.2" xml:space="preserve">0. 74</text><path transform="translate(333.82,551.70) scale(0.00400,-0.00400)" d="M763 0L583 0L583 1147Q518 1085 412 1023Q306 961 221 930L221 1104Q372 1175 485 1276Q598 1377 645 1472L763 1472Z" fill="#111" stroke="#111" stroke-width="50.0"/>
<text x="352.04" y="551.70" font-size="8.2" fill="#111" stroke="#111" stroke-width="0.2" xml:space="preserve">0. 62</text><path transform="translate(358.88,551.70) scale(0.00400,-0.00400)" d="M763 0L583 0L583 1147Q518 1085 412 1023Q306 961 221 930L221 1104Q372 1175 485 1276Q598 1377 645 1472L763 1472Z" fill="#111" stroke="#111" stroke-width="50.0"/>
<text x="377.10" y="551.70" font-size="8.2" fill="#111" stroke="#111" stroke-width="0.2" xml:space="preserve">0. 70</text><path transform="translate(383.93,551.70) scale(0.00400,-0.00400)" d="M763 0L583 0L583 1147Q518 1085 412 1023Q306 961 221 930L221 1104Q372 1175 485 1276Q598 1377 645 1472L763 1472Z" fill="#111" stroke="#111" stroke-width="50.0"/>
<text x="402.15" y="551.70" font-size="8.2" fill="#111" stroke="#111" stroke-width="0.2" xml:space="preserve">0.245</text>
<text x="427.21" y="551.70" font-size="8.2" fill="#fff" stroke="#fff" stroke-width="0.2" xml:space="preserve">0.606</text>
<text x="126.52" y="575.65" font-size="8.2" fill="#fff" stroke="#fff" stroke-width="0.2" xml:space="preserve">0.792</text>
<text x="176.63" y="575.65" font-size="8.2" fill="#111" stroke="#111" stroke-width="0.2" xml:space="preserve">0.0 4</text><path transform="translate(188.03,575.65) scale(0.00400,-0.00400)" d="M763 0L583 0L583 1147Q518 1085 412 1023Q306 961 221 930L221 1104Q372 1175 485 1276Q598 1377 645 1472L763 1472Z" fill="#111" stroke="#111" stroke-width="50.0"/>
<text x="226.75" y="575.65" font-size="8.2" fill="#111" stroke="#111" stroke-width="0.2" xml:space="preserve">0.008</text>
<text x="251.81" y="575.65" font-size="8.2" fill="#111" stroke="#111" stroke-width="0.2" xml:space="preserve">0.003</text>
<text x="276.86" y="575.65" font-size="8.2" fill="#111" stroke="#111" stroke-width="0.2" xml:space="preserve">0.035</text>
<text x="301.92" y="575.65" font-size="8.2" fill="#111" stroke="#111" stroke-width="0.2" xml:space="preserve">0. 46</text><path transform="translate(308.76,575.65) scale(0.00400,-0.00400)" d="M763 0L583 0L583 1147Q518 1085 412 1023Q306 961 221 930L221 1104Q372 1175 485 1276Q598 1377 645 1472L763 1472Z" fill="#111" stroke="#111" stroke-width="50.0"/>
<text x="326.98" y="575.65" font-size="8.2" fill="#111" stroke="#111" stroke-width="0.2" xml:space="preserve">0. 23</text><path transform="translate(333.82,575.65) scale(0.00400,-0.00400)" d="M763 0L583 0L583 1147Q518 1085 412 1023Q306 961 221 930L221 1104Q372 1175 485 1276Q598 1377 645 1472L763 1472Z" fill="#111" stroke="#111" stroke-width="50.0"/>
<text x="352.04" y="575.65" font-size="8.2" fill="#111" stroke="#111" stroke-width="0.2" xml:space="preserve">0. 38</text><path transform="translate(358.88,575.65) scale(0.00400,-0.00400)" d="M763 0L583 0L583 1147Q518 1085 412 1023Q306 961 221 930L221 1104Q372 1175 485 1276Q598 1377 645 1472L763 1472Z" fill="#111" stroke="#111" stroke-width="50.0"/>
<text x="377.10" y="575.65" font-size="8.2" fill="#111" stroke="#111" stroke-width="0.2" xml:space="preserve">0.0 2</text><path transform="translate(388.49,575.65) scale(0.00400,-0.00400)" d="M763 0L583 0L583 1147Q518 1085 412 1023Q306 961 221 930L221 1104Q372 1175 485 1276Q598 1377 645 1472L763 1472Z" fill="#111" stroke="#111" stroke-width="50.0"/>
<text x="402.15" y="575.65" font-size="8.2" fill="#111" stroke="#111" stroke-width="0.2" xml:space="preserve">0.058</text>
<text x="427.21" y="575.65" font-size="8.2" fill="#111" stroke="#111" stroke-width="0.2" xml:space="preserve">0.390</text>
<text x="126.52" y="599.61" font-size="8.2" fill="#111" stroke="#111" stroke-width="0.2" xml:space="preserve">0.523</text>
<text x="151.58" y="599.61" font-size="8.2" fill="#111" stroke="#111" stroke-width="0.2" xml:space="preserve">0.020</text>
<text x="176.63" y="599.61" font-size="8.2" fill="#111" stroke="#111" stroke-width="0.2" xml:space="preserve">0.0 7</text><path transform="translate(188.03,599.61) scale(0.00400,-0.00400)" d="M763 0L583 0L583 1147Q518 1085 412 1023Q306 961 221 930L221 1104Q372 1175 485 1276Q598 1377 645 1472L763 1472Z" fill="#111" stroke="#111" stroke-width="50.0"/>
<text x="201.69" y="599.61" font-size="8.2" fill="#111" stroke="#111" stroke-width="0.2" xml:space="preserve">0.008</text>
<text x="251.81" y="599.61" font-size="8.2" fill="#111" stroke="#111" stroke-width="0.2" xml:space="preserve">0.004</text>
<text x="276.86" y="599.61" font-size="8.2" fill="#111" stroke="#111" stroke-width="0.2" xml:space="preserve">0.00 </text><path transform="translate(292.82,599.61) scale(0.00400,-0.00400)" d="M763 0L583 0L583 1147Q518 1085 412 1023Q306 961 221 930L221 1104Q372 1175 485 1276Q598 1377 645 1472L763 1472Z" fill="#111" stroke="#111" stroke-width="50.0"/>
<text x="301.92" y="599.61" font-size="8.2" fill="#111" stroke="#111" stroke-width="0.2" xml:space="preserve">0.080</text>
<text x="326.98" y="599.61" font-size="8.2" fill="#111" stroke="#111" stroke-width="0.2" xml:space="preserve">0.083</text>
<text x="352.04" y="599.61" font-size="8.2" fill="#111" stroke="#111" stroke-width="0.2" xml:space="preserve">0.096</text>
<text x="377.10" y="599.61" font-size="8.2" fill="#111" stroke="#111" stroke-width="0.2" xml:space="preserve">0.4  </text><path transform="translate(388.49,599.61) scale(0.00400,-0.00400)" d="M763 0L583 0L583 1147Q518 1085 412 1023Q306 961 221 930L221 1104Q372 1175 485 1276Q598 1377 645 1472L763 1472Z" fill="#111" stroke="#111" stroke-width="50.0"/><path transform="translate(393.06,599.61) scale(0.00400,-0.00400)" d="M763 0L583 0L583 1147Q518 1085 412 1023Q306 961 221 930L221 1104Q372 1175 485 1276Q598 1377 645 1472L763 1472Z" fill="#111" stroke="#111" stroke-width="50.0"/>
<text x="402.15" y="599.61" font-size="8.2" fill="#111" stroke="#111" stroke-width="0.2" xml:space="preserve">0.2 2</text><path transform="translate(413.55,599.61) scale(0.00400,-0.00400)" d="M763 0L583 0L583 1147Q518 1085 412 1023Q306 961 221 930L221 1104Q372 1175 485 1276Q598 1377 645 1472L763 1472Z" fill="#111" stroke="#111" stroke-width="50.0"/>
<text x="427.21" y="599.61" font-size="8.2" fill="#fff" stroke="#fff" stroke-width="0.2" xml:space="preserve">0.828</text>
<text x="126.52" y="623.57" font-size="8.2" fill="#111" stroke="#111" stroke-width="0.2" xml:space="preserve">0.   </text><path transform="translate(133.36,623.57) scale(0.00400,-0.00400)" d="M763 0L583 0L583 1147Q518 1085 412 1023Q306 961 221 930L221 1104Q372 1175 485 1276Q598 1377 645 1472L763 1472Z" fill="#111" stroke="#111" stroke-width="50.0"/><path transform="translate(137.92,623.57) scale(0.00400,-0.00400)" d="M763 0L583 0L583 1147Q518 1085 412 1023Q306 961 221 930L221 1104Q372 1175 485 1276Q598 1377 645 1472L763 1472Z" fill="#111" stroke="#111" stroke-width="50.0"/><path transform="translate(142.48,623.57) scale(0.00400,-0.00400)" d="M763 0L583 0L583 1147Q518 1085 412 1023Q306 961 221 930L221 1104Q372 1175 485 1276Q598 1377 645 1472L763 1472Z" fill="#111" stroke="#111" stroke-width="50.0"/>
<text x="151.58" y="623.57" font-size="8.2" fill="#111" stroke="#111" stroke-width="0.2" xml:space="preserve">0. 53</text><path transform="translate(158.42,623.57) scale(0.00400,-0.00400)" d="M763 0L583 0L583 1147Q518 1085 412 1023Q306 961 221 930L221 1104Q372 1175 485 1276Q598 1377 645 1472L763 1472Z" fill="#111" stroke="#111" stroke-width="50.0"/>
<text x="176.63" y="623.57" font-size="8.2" fill="#111" stroke="#111" stroke-width="0.2" xml:space="preserve">0.394</text>
<text x="201.69" y="623.57" font-size="8.2" fill="#111" stroke="#111" stroke-width="0.2" xml:space="preserve">0.003</text>
<text x="226.75" y="623.57" font-size="8.2" fill="#111" stroke="#111" stroke-width="0.2" xml:space="preserve">0.004</text>
<text x="276.86" y="623.57" font-size="8.2" fill="#111" stroke="#111" stroke-width="0.2" xml:space="preserve">0.002</text>
<text x="301.92" y="623.57" font-size="8.2" fill="#111" stroke="#111" stroke-width="0.2" xml:space="preserve">0.304</text>
<text x="326.98" y="623.57" font-size="8.2" fill="#111" stroke="#111" stroke-width="0.2" xml:space="preserve">0.308</text>
<text x="352.04" y="623.57" font-size="8.2" fill="#111" stroke="#111" stroke-width="0.2" xml:space="preserve">0.320</text>
<text x="377.10" y="623.57" font-size="8.2" fill="#111" stroke="#111" stroke-width="0.2" xml:space="preserve">0.068</text>
<text x="402.15" y="623.57" font-size="8.2" fill="#111" stroke="#111" stroke-width="0.2" xml:space="preserve">0.0 4</text><path transform="translate(413.55,623.57) scale(0.00400,-0.00400)" d="M763 0L583 0L583 1147Q518 1085 412 1023Q306 961 221 930L221 1104Q372 1175 485 1276Q598 1377 645 1472L763 1472Z" fill="#111" stroke="#111" stroke-width="50.0"/>
<text x="427.21" y="623.57" font-size="8.2" fill="#111" stroke="#111" stroke-width="0.2" xml:space="preserve">0.332</text>
<text x="126.52" y="647.53" font-size="8.2" fill="#fff" stroke="#fff" stroke-width="0.2" xml:space="preserve">0.8 2</text><path transform="translate(137.92,647.53) scale(0.00400,-0.00400)" d="M763 0L583 0L583 1147Q518 1085 412 1023Q306 961 221 930L221 1104Q372 1175 485 1276Q598 1377 645 1472L763 1472Z" fill="#fff" stroke="#fff" stroke-width="50.0"/>
<text x="151.58" y="647.53" font-size="8.2" fill="#111" stroke="#111" stroke-width="0.2" xml:space="preserve">0. 94</text><path transform="translate(158.42,647.53) scale(0.00400,-0.00400)" d="M763 0L583 0L583 1147Q518 1085 412 1023Q306 961 221 930L221 1104Q372 1175 485 1276Q598 1377 645 1472L763 1472Z" fill="#111" stroke="#111" stroke-width="50.0"/>
<text x="176.63" y="647.53" font-size="8.2" fill="#111" stroke="#111" stroke-width="0.2" xml:space="preserve">0.32 </text><path transform="translate(192.59,647.53) scale(0.00400,-0.00400)" d="M763 0L583 0L583 1147Q518 1085 412 1023Q306 961 221 930L221 1104Q372 1175 485 1276Q598 1377 645 1472L763 1472Z" fill="#111" stroke="#111" stroke-width="50.0"/>
<text x="201.69" y="647.53" font-size="8.2" fill="#111" stroke="#111" stroke-width="0.2" xml:space="preserve">0.035</text>
<text x="226.75" y="647.53" font-size="8.2" fill="#111" stroke="#111" stroke-width="0.2" xml:space="preserve">0.00 </text><path transform="translate(242.71,647.53) scale(0.00400,-0.00400)" d="M763 0L583 0L583 1147Q518 1085 412 1023Q306 961 221 930L221 1104Q372 1175 485 1276Q598 1377 645 1472L763 1472Z" fill="#111" stroke="#111" stroke-width="50.0"/>
<text x="251.81" y="647.53" font-size="8.2" fill="#111" stroke="#111" stroke-width="0.2" xml:space="preserve">0.002</text>
<text x="301.92" y="647.53" font-size="8.2" fill="#111" stroke="#111" stroke-width="0.2" xml:space="preserve">0. 20</text><path transform="translate(308.76,647.53) scale(0.00400,-0.00400)" d="M763 0L583 0L583 1147Q518 1085 412 1023Q306 961 221 930L221 1104Q372 1175 485 1276Q598 1377 645 1472L763 1472Z" fill="#111" stroke="#111" stroke-width="50.0"/>
<text x="326.98" y="647.53" font-size="8.2" fill="#111" stroke="#111" stroke-width="0.2" xml:space="preserve">0. 52</text><path transform="translate(333.82,647.53) scale(0.00400,-0.00400)" d="M763 0L583 0L583 1147Q518 1085 412 1023Q306 961 221 930L221 1104Q372 1175 485 1276Q598 1377 645 1472L763 1472Z" fill="#111" stroke="#111" stroke-width="50.0"/>
<text x="352.04" y="647.53" font-size="8.2" fill="#111" stroke="#111" stroke-width="0.2" xml:space="preserve">0.253</text>
<text x="377.10" y="647.53" font-size="8.2" fill="#111" stroke="#111" stroke-width="0.2" xml:space="preserve">0.536</text>
<text x="402.15" y="647.53" font-size="8.2" fill="#111" stroke="#111" stroke-width="0.2" xml:space="preserve">0.022</text>
<text x="427.21" y="647.53" font-size="8.2" fill="#111" stroke="#111" stroke-width="0.2" xml:space="preserve">0.509</text>
<text x="126.52" y="671.48" font-size="8.2" fill="#111" stroke="#111" stroke-width="0.2" xml:space="preserve">0.060</text>
<text x="151.58" y="671.48" font-size="8.2" fill="#111" stroke="#111" stroke-width="0.2" xml:space="preserve">0.056</text>
<text x="176.63" y="671.48" font-size="8.2" fill="#111" stroke="#111" stroke-width="0.2" xml:space="preserve">0. 55</text><path transform="translate(183.47,671.48) scale(0.00400,-0.00400)" d="M763 0L583 0L583 1147Q518 1085 412 1023Q306 961 221 930L221 1104Q372 1175 485 1276Q598 1377 645 1472L763 1472Z" fill="#111" stroke="#111" stroke-width="50.0"/>
<text x="201.69" y="671.48" font-size="8.2" fill="#111" stroke="#111" stroke-width="0.2" xml:space="preserve">0. 46</text><path transform="translate(208.53,671.48) scale(0.00400,-0.00400)" d="M763 0L583 0L583 1147Q518 1085 412 1023Q306 961 221 930L221 1104Q372 1175 485 1276Q598 1377 645 1472L763 1472Z" fill="#111" stroke="#111" stroke-width="50.0"/>
<text x="226.75" y="671.48" font-size="8.2" fill="#111" stroke="#111" stroke-width="0.2" xml:space="preserve">0.080</text>
<text x="251.81" y="671.48" font-size="8.2" fill="#111" stroke="#111" stroke-width="0.2" xml:space="preserve">0.304</text>
<text x="276.86" y="671.48" font-size="8.2" fill="#111" stroke="#111" stroke-width="0.2" xml:space="preserve">0. 20</text><path transform="translate(283.70,671.48) scale(0.00400,-0.00400)" d="M763 0L583 0L583 1147Q518 1085 412 1023Q306 961 221 930L221 1104Q372 1175 485 1276Q598 1377 645 1472L763 1472Z" fill="#111" stroke="#111" stroke-width="50.0"/>
<text x="377.10" y="671.48" font-size="8.2" fill="#111" stroke="#111" stroke-width="0.2" xml:space="preserve">0.005</text>
<text x="402.15" y="671.48" font-size="8.2" fill="#111" stroke="#111" stroke-width="0.2" xml:space="preserve">0.238</text>
<text x="427.21" y="671.48" font-size="8.2" fill="#111" stroke="#111" stroke-width="0.2" xml:space="preserve">0.342</text>
<text x="126.52" y="695.44" font-size="8.2" fill="#111" stroke="#111" stroke-width="0.2" xml:space="preserve">0.042</text>
<text x="151.58" y="695.44" font-size="8.2" fill="#111" stroke="#111" stroke-width="0.2" xml:space="preserve">0.034</text>
<text x="176.63" y="695.44" font-size="8.2" fill="#111" stroke="#111" stroke-width="0.2" xml:space="preserve">0. 74</text><path transform="translate(183.47,695.44) scale(0.00400,-0.00400)" d="M763 0L583 0L583 1147Q518 1085 412 1023Q306 961 221 930L221 1104Q372 1175 485 1276Q598 1377 645 1472L763 1472Z" fill="#111" stroke="#111" stroke-width="50.0"/>
<text x="201.69" y="695.44" font-size="8.2" fill="#111" stroke="#111" stroke-width="0.2" xml:space="preserve">0. 23</text><path transform="translate(208.53,695.44) scale(0.00400,-0.00400)" d="M763 0L583 0L583 1147Q518 1085 412 1023Q306 961 221 930L221 1104Q372 1175 485 1276Q598 1377 645 1472L763 1472Z" fill="#111" stroke="#111" stroke-width="50.0"/>
<text x="226.75" y="695.44" font-size="8.2" fill="#111" stroke="#111" stroke-width="0.2" xml:space="preserve">0.083</text>
<text x="251.81" y="695.44" font-size="8.2" fill="#111" stroke="#111" stroke-width="0.2" xml:space="preserve">0.308</text>
<text x="276.86" y="695.44" font-size="8.2" fill="#111" stroke="#111" stroke-width="0.2" xml:space="preserve">0. 52</text><path transform="translate(283.70,695.44) scale(0.00400,-0.00400)" d="M763 0L583 0L583 1147Q518 1085 412 1023Q306 961 221 930L221 1104Q372 1175 485 1276Q598 1377 645 1472L763 1472Z" fill="#111" stroke="#111" stroke-width="50.0"/>
<text x="377.10" y="695.44" font-size="8.2" fill="#111" stroke="#111" stroke-width="0.2" xml:space="preserve">0.003</text>
<text x="402.15" y="695.44" font-size="8.2" fill="#111" stroke="#111" stroke-width="0.2" xml:space="preserve">0. 45</text><path transform="translate(408.99,695.44) scale(0.00400,-0.00400)" d="M763 0L583 0L583 1147Q518 1085 412 1023Q306 961 221 930L221 1104Q372 1175 485 1276Q598 1377 645 1472L763 1472Z" fill="#111" stroke="#111" stroke-width="50.0"/>
<text x="427.21" y="695.44" font-size="8.2" fill="#111" stroke="#111" stroke-width="0.2" xml:space="preserve">0.242</text>
<text x="126.52" y="719.40" font-size="8.2" fill="#111" stroke="#111" stroke-width="0.2" xml:space="preserve">0.046</text>
<text x="151.58" y="719.40" font-size="8.2" fill="#111" stroke="#111" stroke-width="0.2" xml:space="preserve">0.039</text>
<text x="176.63" y="719.40" font-size="8.2" fill="#111" stroke="#111" stroke-width="0.2" xml:space="preserve">0. 62</text><path transform="translate(183.47,719.40) scale(0.00400,-0.00400)" d="M763 0L583 0L583 1147Q518 1085 412 1023Q306 961 221 930L221 1104Q372 1175 485 1276Q598 1377 645 1472L763 1472Z" fill="#111" stroke="#111" stroke-width="50.0"/>
<text x="201.69" y="719.40" font-size="8.2" fill="#111" stroke="#111" stroke-width="0.2" xml:space="preserve">0. 38</text><path transform="translate(208.53,719.40) scale(0.00400,-0.00400)" d="M763 0L583 0L583 1147Q518 1085 412 1023Q306 961 221 930L221 1104Q372 1175 485 1276Q598 1377 645 1472L763 1472Z" fill="#111" stroke="#111" stroke-width="50.0"/>
<text x="226.75" y="719.40" font-size="8.2" fill="#111" stroke="#111" stroke-width="0.2" xml:space="preserve">0.096</text>
<text x="251.81" y="719.40" font-size="8.2" fill="#111" stroke="#111" stroke-width="0.2" xml:space="preserve">0.320</text>
<text x="276.86" y="719.40" font-size="8.2" fill="#111" stroke="#111" stroke-width="0.2" xml:space="preserve">0.253</text>
<text x="377.10" y="719.40" font-size="8.2" fill="#111" stroke="#111" stroke-width="0.2" xml:space="preserve">0.005</text>
<text x="402.15" y="719.40" font-size="8.2" fill="#111" stroke="#111" stroke-width="0.2" xml:space="preserve">0.  0</text><path transform="translate(408.99,719.40) scale(0.00400,-0.00400)" d="M763 0L583 0L583 1147Q518 1085 412 1023Q306 961 221 930L221 1104Q372 1175 485 1276Q598 1377 645 1472L763 1472Z" fill="#111" stroke="#111" stroke-width="50.0"/><path transform="translate(413.55,719.40) scale(0.00400,-0.00400)" d="M763 0L583 0L583 1147Q518 1085 412 1023Q306 961 221 930L221 1104Q372 1175 485 1276Q598 1377 645 1472L763 1472Z" fill="#111" stroke="#111" stroke-width="50.0"/>
<text x="427.21" y="719.40" font-size="8.2" fill="#111" stroke="#111" stroke-width="0.2" xml:space="preserve">0. 62</text><path transform="translate(434.05,719.40) scale(0.00400,-0.00400)" d="M763 0L583 0L583 1147Q518 1085 412 1023Q306 961 221 930L221 1104Q372 1175 485 1276Q598 1377 645 1472L763 1472Z" fill="#111" stroke="#111" stroke-width="50.0"/>
<text x="126.52" y="743.36" font-size="8.2" fill="#111" stroke="#111" stroke-width="0.2" xml:space="preserve">0.309</text>
<text x="151.58" y="743.36" font-size="8.2" fill="#111" stroke="#111" stroke-width="0.2" xml:space="preserve">0.044</text>
<text x="176.63" y="743.36" font-size="8.2" fill="#111" stroke="#111" stroke-width="0.2" xml:space="preserve">0. 70</text><path transform="translate(183.47,743.36) scale(0.00400,-0.00400)" d="M763 0L583 0L583 1147Q518 1085 412 1023Q306 961 221 930L221 1104Q372 1175 485 1276Q598 1377 645 1472L763 1472Z" fill="#111" stroke="#111" stroke-width="50.0"/>
<text x="201.69" y="743.36" font-size="8.2" fill="#111" stroke="#111" stroke-width="0.2" xml:space="preserve">0.0 2</text><path transform="translate(213.09,743.36) scale(0.00400,-0.00400)" d="M763 0L583 0L583 1147Q518 1085 412 1023Q306 961 221 930L221 1104Q372 1175 485 1276Q598 1377 645 1472L763 1472Z" fill="#111" stroke="#111" stroke-width="50.0"/>
<text x="226.75" y="743.36" font-size="8.2" fill="#111" stroke="#111" stroke-width="0.2" xml:space="preserve">0.4  </text><path transform="translate(238.15,743.36) scale(0.00400,-0.00400)" d="M763 0L583 0L583 1147Q518 1085 412 1023Q306 961 221 930L221 1104Q372 1175 485 1276Q598 1377 645 1472L763 1472Z" fill="#111" stroke="#111" stroke-width="50.0"/><path transform="translate(242.71,743.36) scale(0.00400,-0.00400)" d="M763 0L583 0L583 1147Q518 1085 412 1023Q306 961 221 930L221 1104Q372 1175 485 1276Q598 1377 645 1472L763 1472Z" fill="#111" stroke="#111" stroke-width="50.0"/>
<text x="251.81" y="743.36" font-size="8.2" fill="#111" stroke="#111" stroke-width="0.2" xml:space="preserve">0.068</text>
<text x="276.86" y="743.36" font-size="8.2" fill="#111" stroke="#111" stroke-width="0.2" xml:space="preserve">0.536</text>
<text x="301.92" y="743.36" font-size="8.2" fill="#111" stroke="#111" stroke-width="0.2" xml:space="preserve">0.005</text>
<text x="326.98" y="743.36" font-size="8.2" fill="#111" stroke="#111" stroke-width="0.2" xml:space="preserve">0.003</text>
<text x="352.04" y="743.36" font-size="8.2" fill="#111" stroke="#111" stroke-width="0.2" xml:space="preserve">0.005</text>
<text x="402.15" y="743.36" font-size="8.2" fill="#111" stroke="#111" stroke-width="0.2" xml:space="preserve">0. 32</text><path transform="translate(408.99,743.36) scale(0.00400,-0.00400)" d="M763 0L583 0L583 1147Q518 1085 412 1023Q306 961 221 930L221 1104Q372 1175 485 1276Q598 1377 645 1472L763 1472Z" fill="#111" stroke="#111" stroke-width="50.0"/>
<text x="427.21" y="743.36" font-size="8.2" fill="#fff" stroke="#fff" stroke-width="0.2" xml:space="preserve">0.86 </text><path transform="translate(443.17,743.36) scale(0.00400,-0.00400)" d="M763 0L583 0L583 1147Q518 1085 412 1023Q306 961 221 930L221 1104Q372 1175 485 1276Q598 1377 645 1472L763 1472Z" fill="#fff" stroke="#fff" stroke-width="50.0"/>
<text x="126.52" y="767.32" font-size="8.2" fill="#fff" stroke="#fff" stroke-width="0.2" xml:space="preserve">0.606</text>
<text x="151.58" y="767.32" font-size="8.2" fill="#111" stroke="#111" stroke-width="0.2" xml:space="preserve">0. 68</text><path transform="translate(158.42,767.32) scale(0.00400,-0.00400)" d="M763 0L583 0L583 1147Q518 1085 412 1023Q306 961 221 930L221 1104Q372 1175 485 1276Q598 1377 645 1472L763 1472Z" fill="#111" stroke="#111" stroke-width="50.0"/>
<text x="176.63" y="767.32" font-size="8.2" fill="#111" stroke="#111" stroke-width="0.2" xml:space="preserve">0.245</text>
<text x="201.69" y="767.32" font-size="8.2" fill="#111" stroke="#111" stroke-width="0.2" xml:space="preserve">0.058</text>
<text x="226.75" y="767.32" font-size="8.2" fill="#111" stroke="#111" stroke-width="0.2" xml:space="preserve">0.2 2</text><path transform="translate(238.15,767.32) scale(0.00400,-0.00400)" d="M763 0L583 0L583 1147Q518 1085 412 1023Q306 961 221 930L221 1104Q372 1175 485 1276Q598 1377 645 1472L763 1472Z" fill="#111" stroke="#111" stroke-width="50.0"/>
<text x="251.81" y="767.32" font-size="8.2" fill="#111" stroke="#111" stroke-width="0.2" xml:space="preserve">0.0 4</text><path transform="translate(263.21,767.32) scale(0.00400,-0.00400)" d="M763 0L583 0L583 1147Q518 1085 412 1023Q306 961 221 930L221 1104Q372 1175 485 1276Q598 1377 645 1472L763 1472Z" fill="#111" stroke="#111" stroke-width="50.0"/>
<text x="276.86" y="767.32" font-size="8.2" fill="#111" stroke="#111" stroke-width="0.2" xml:space="preserve">0.022</text>
<text x="301.92" y="767.32" font-size="8.2" fill="#111" stroke="#111" stroke-width="0.2" xml:space="preserve">0.238</text>
<text x="326.98" y="767.32" font-size="8.2" fill="#111" stroke="#111" stroke-width="0.2" xml:space="preserve">0. 45</text><path transform="translate(333.82,767.32) scale(0.00400,-0.00400)" d="M763 0L583 0L583 1147Q518 1085 412 1023Q306 961 221 930L221 1104Q372 1175 485 1276Q598 1377 645 1472L763 1472Z" fill="#111" stroke="#111" stroke-width="50.0"/>
<text x="352.04" y="767.32" font-size="8.2" fill="#111" stroke="#111" stroke-width="0.2" xml:space="preserve">0.  0</text><path transform="translate(358.88,767.32) scale(0.00400,-0.00400)" d="M763 0L583 0L583 1147Q518 1085 412 1023Q306 961 221 930L221 1104Q372 1175 485 1276Q598 1377 645 1472L763 1472Z" fill="#111" stroke="#111" stroke-width="50.0"/><path transform="translate(363.44,767.32) scale(0.00400,-0.00400)" d="M763 0L583 0L583 1147Q518 1085 412 1023Q306 961 221 930L221 1104Q372 1175 485 1276Q598 1377 645 1472L763 1472Z" fill="#111" stroke="#111" stroke-width="50.0"/>
<text x="377.10" y="767.32" font-size="8.2" fill="#111" stroke="#111" stroke-width="0.2" xml:space="preserve">0. 32</text><path transform="translate(383.93,767.32) scale(0.00400,-0.00400)" d="M763 0L583 0L583 1147Q518 1085 412 1023Q306 961 221 930L221 1104Q372 1175 485 1276Q598 1377 645 1472L763 1472Z" fill="#111" stroke="#111" stroke-width="50.0"/>
<text x="427.21" y="767.32" font-size="8.2" fill="#fff" stroke="#fff" stroke-width="0.2" xml:space="preserve">0.695</text>
<text x="126.52" y="791.27" font-size="8.2" fill="#fff" stroke="#fff" stroke-width="0.2" xml:space="preserve">0.958</text>
<text x="151.58" y="791.27" font-size="8.2" fill="#111" stroke="#111" stroke-width="0.2" xml:space="preserve">0.235</text>
<text x="176.63" y="791.27" font-size="8.2" fill="#111" stroke="#111" stroke-width="0.2" xml:space="preserve">0.606</text>
<text x="201.69" y="791.27" font-size="8.2" fill="#111" stroke="#111" stroke-width="0.2" xml:space="preserve">0.390</text>
<text x="226.75" y="791.27" font-size="8.2" fill="#fff" stroke="#fff" stroke-width="0.2" xml:space="preserve">0.828</text>
<text x="251.81" y="791.27" font-size="8.2" fill="#111" stroke="#111" stroke-width="0.2" xml:space="preserve">0.332</text>
<text x="276.86" y="791.27" font-size="8.2" fill="#111" stroke="#111" stroke-width="0.2" xml:space="preserve">0.509</text>
<text x="301.92" y="791.27" font-size="8.2" fill="#111" stroke="#111" stroke-width="0.2" xml:space="preserve">0.342</text>
<text x="326.98" y="791.27" font-size="8.2" fill="#111" stroke="#111" stroke-width="0.2" xml:space="preserve">0.242</text>
<text x="352.04" y="791.27" font-size="8.2" fill="#111" stroke="#111" stroke-width="0.2" xml:space="preserve">0. 62</text><path transform="translate(358.88,791.27) scale(0.00400,-0.00400)" d="M763 0L583 0L583 1147Q518 1085 412 1023Q306 961 221 930L221 1104Q372 1175 485 1276Q598 1377 645 1472L763 1472Z" fill="#111" stroke="#111" stroke-width="50.0"/>
<text x="377.10" y="791.27" font-size="8.2" fill="#fff" stroke="#fff" stroke-width="0.2" xml:space="preserve">0.86 </text><path transform="translate(393.06,791.27) scale(0.00400,-0.00400)" d="M763 0L583 0L583 1147Q518 1085 412 1023Q306 961 221 930L221 1104Q372 1175 485 1276Q598 1377 645 1472L763 1472Z" fill="#fff" stroke="#fff" stroke-width="50.0"/>
<text x="402.15" y="791.27" font-size="8.2" fill="#fff" stroke="#fff" stroke-width="0.2" xml:space="preserve">0.695</text>
<rect x="124.25" y="488.85" width="325.75" height="311.44999999999993" fill="none" stroke="#000" stroke-width="2"/>
<text transform="translate(118.6,504.93) scale(0.9400,1)" font-size="12.2" text-anchor="end" fill="#000" stroke="#000" stroke-width="0.15">Platelet (Highest)</text>
<text transform="translate(118.6,528.89) scale(0.9400,1)" font-size="12.2" text-anchor="end" fill="#000" stroke="#000" stroke-width="0.15">Platelet (Lowest)</text>
<text transform="translate(118.6,552.84) scale(0.9400,1)" font-size="12.2" text-anchor="end" fill="#000" stroke="#000" stroke-width="0.15">Fibrinogen (Lowest)</text>
<text transform="translate(118.6,576.80) scale(0.9400,1)" font-size="12.2" text-anchor="end" fill="#000" stroke="#000" stroke-width="0.15">Hemoglobin (Lowest)</text>
<text transform="translate(118.6,600.76) scale(0.9118,1)" font-size="12.2" text-anchor="end" fill="#000" stroke="#000" stroke-width="0.15">D·dimer</text>
<text transform="translate(118.6,624.72) scale(0.9776,1)" font-size="12.2" text-anchor="end" fill="#000" stroke="#000" stroke-width="0.15">CRP</text>
<text transform="translate(118.6,648.68) scale(0.9682,1)" font-size="12.2" text-anchor="end" fill="#000" stroke="#000" stroke-width="0.15">LDH</text>
<text transform="translate(118.6,672.63) scale(0.9212,1)" font-size="12.2" text-anchor="end" fill="#000" stroke="#000" stroke-width="0.15">Ferritin</text>
<text transform="translate(118.6,696.59) scale(0.8930,1)" font-size="12.2" text-anchor="end" fill="#000" stroke="#000" stroke-width="0.15">AST</text>
<text transform="translate(118.6,720.55) scale(0.8601,1)" font-size="12.2" text-anchor="end" fill="#000" stroke="#000" stroke-width="0.15">ALT</text>
<text transform="translate(118.6,744.51) scale(0.8930,1)" font-size="12.2" text-anchor="end" fill="#000" stroke="#000" stroke-width="0.15">PT</text>
<text transform="translate(118.6,768.46) scale(0.8836,1)" font-size="12.2" text-anchor="end" fill="#000" stroke="#000" stroke-width="0.15">PTT</text>
<text transform="translate(118.6,792.42) scale(1.0208,1)" font-size="12.2" text-anchor="end" fill="#000" stroke="#000" stroke-width="0.15">sC5B9</text>
<defs><linearGradient id="ga" x1="0" y1="0" x2="0" y2="1"><stop offset="0" stop-color="#0000ff"/><stop offset="0.5" stop-color="#ffffff"/><stop offset="1" stop-color="#ff0000"/></linearGradient><linearGradient id="gb" x1="0" y1="0" x2="0" y2="1"><stop offset="0" stop-color="#0000ff"/><stop offset="1" stop-color="#ffffff"/></linearGradient></defs>
<rect x="468.0" y="123.8" width="18.0" height="311.7" fill="url(#ga)" stroke="#000" stroke-width="1.5"/>
<text x="490.90" y="128.40" font-size="12.6" fill="#000" stroke="#000" stroke-width="0.15" xml:space="preserve"> .0</text><path transform="translate(490.90,128.40) scale(0.00615,-0.00615)" d="M763 0L583 0L583 1147Q518 1085 412 1023Q306 961 221 930L221 1104Q372 1175 485 1276Q598 1377 645 1472L763 1472Z" fill="#000" stroke="#000" stroke-width="24.4"/>
<line x1="468.0" y1="201.72" x2="471.0" y2="201.72" stroke="#000" stroke-width="1.3"/>
<line x1="483.0" y1="201.72" x2="486.0" y2="201.72" stroke="#000" stroke-width="1.3"/>
<text x="490.90" y="206.32" font-size="12.6" fill="#000" stroke="#000" stroke-width="0.15" xml:space="preserve">0.5</text>
<line x1="468.0" y1="279.65" x2="471.0" y2="279.65" stroke="#000" stroke-width="1.3"/>
<line x1="483.0" y1="279.65" x2="486.0" y2="279.65" stroke="#000" stroke-width="1.3"/>
<text x="490.90" y="284.25" font-size="12.6" fill="#000" stroke="#000" stroke-width="0.15" xml:space="preserve">0</text>
<line x1="468.0" y1="357.57" x2="471.0" y2="357.57" stroke="#000" stroke-width="1.3"/>
<line x1="483.0" y1="357.57" x2="486.0" y2="357.57" stroke="#000" stroke-width="1.3"/>
<text x="490.90" y="362.18" font-size="12.6" fill="#000" stroke="#000" stroke-width="0.15" xml:space="preserve">-0.5</text>
<text x="490.90" y="440.10" font-size="12.6" fill="#000" stroke="#000" stroke-width="0.15" xml:space="preserve">- .0</text><path transform="translate(495.10,440.10) scale(0.00615,-0.00615)" d="M763 0L583 0L583 1147Q518 1085 412 1023Q306 961 221 930L221 1104Q372 1175 485 1276Q598 1377 645 1472L763 1472Z" fill="#000" stroke="#000" stroke-width="24.4"/>
<rect x="469.0" y="489.0" width="18.5" height="311.6" fill="url(#gb)" stroke="#000" stroke-width="1.5"/>
<line x1="469.0" y1="540.10" x2="472.0" y2="540.10" stroke="#000" stroke-width="1.3"/>
<line x1="484.5" y1="540.10" x2="487.5" y2="540.10" stroke="#000" stroke-width="1.3"/>
<text x="492.60" y="544.70" font-size="12.6" fill="#000" stroke="#000" stroke-width="0.15" xml:space="preserve">0.8</text>
<line x1="469.0" y1="605.00" x2="472.0" y2="605.00" stroke="#000" stroke-width="1.3"/>
<line x1="484.5" y1="605.00" x2="487.5" y2="605.00" stroke="#000" stroke-width="1.3"/>
<text x="492.60" y="609.60" font-size="12.6" fill="#000" stroke="#000" stroke-width="0.15" xml:space="preserve">0.6</text>
<line x1="469.0" y1="669.90" x2="472.0" y2="669.90" stroke="#000" stroke-width="1.3"/>
<line x1="484.5" y1="669.90" x2="487.5" y2="669.90" stroke="#000" stroke-width="1.3"/>
<text x="492.60" y="674.50" font-size="12.6" fill="#000" stroke="#000" stroke-width="0.15" xml:space="preserve">0.4</text>
<line x1="469.0" y1="734.80" x2="472.0" y2="734.80" stroke="#000" stroke-width="1.3"/>
<line x1="484.5" y1="734.80" x2="487.5" y2="734.80" stroke="#000" stroke-width="1.3"/>
<text x="492.60" y="739.40" font-size="12.6" fill="#000" stroke="#000" stroke-width="0.15" xml:space="preserve">0.2</text>
</svg></body></html>
